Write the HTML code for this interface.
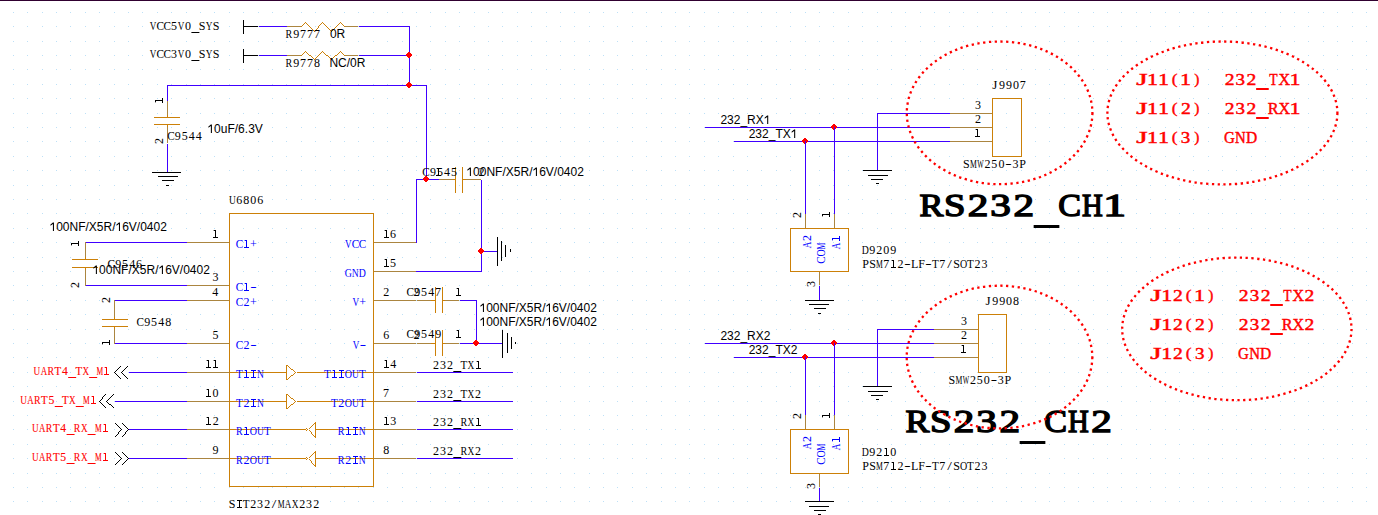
<!DOCTYPE html>
<html><head><meta charset="utf-8"><title>RS232 schematic</title><style>
html,body{margin:0;padding:0;background:#fff;overflow:hidden}
svg{display:block}
text{white-space:pre}
.m{font-family:"Liberation Serif",serif;font-size:12px;fill:#000}
.p{font-family:"Liberation Serif",serif;font-size:12px;fill:#0000ff}
.r{font-family:"Liberation Serif",serif;font-size:12px;fill:#ff0000;stroke:#ff0000;stroke-width:0.12px}
.s{font-family:"Liberation Sans",sans-serif;font-size:12px;fill:#000;font-kerning:none}
.rb{font-family:"Liberation Serif",serif;font-size:17px;fill:#ff0000;stroke:#ff0000;stroke-width:0.45px}
.big{font-family:"Liberation Serif",serif;font-size:32.5px;fill:#000;stroke:#000;stroke-width:1.4px}
</style></head>
<body><svg width="1378" height="515" viewBox="0 0 1378 515">
<rect width="1378" height="515" fill="#fff"/>
<path fill="#bde0f7" d="M13 12h1v1h-1zM13 26h1v1h-1zM13 41h1v1h-1zM13 55h1v1h-1zM13 69h1v1h-1zM13 84h1v1h-1zM13 98h1v1h-1zM13 113h1v1h-1zM13 127h1v1h-1zM13 141h1v1h-1zM13 156h1v1h-1zM13 170h1v1h-1zM13 185h1v1h-1zM13 199h1v1h-1zM13 213h1v1h-1zM13 228h1v1h-1zM13 242h1v1h-1zM13 257h1v1h-1zM13 271h1v1h-1zM13 285h1v1h-1zM13 300h1v1h-1zM13 314h1v1h-1zM13 329h1v1h-1zM13 343h1v1h-1zM13 357h1v1h-1zM13 372h1v1h-1zM13 386h1v1h-1zM13 401h1v1h-1zM13 415h1v1h-1zM13 429h1v1h-1zM13 444h1v1h-1zM13 458h1v1h-1zM13 473h1v1h-1zM13 487h1v1h-1zM13 501h1v1h-1zM27 12h1v1h-1zM27 26h1v1h-1zM27 41h1v1h-1zM27 55h1v1h-1zM27 69h1v1h-1zM27 84h1v1h-1zM27 98h1v1h-1zM27 113h1v1h-1zM27 127h1v1h-1zM27 141h1v1h-1zM27 156h1v1h-1zM27 170h1v1h-1zM27 185h1v1h-1zM27 199h1v1h-1zM27 213h1v1h-1zM27 228h1v1h-1zM27 242h1v1h-1zM27 257h1v1h-1zM27 271h1v1h-1zM27 285h1v1h-1zM27 300h1v1h-1zM27 314h1v1h-1zM27 329h1v1h-1zM27 343h1v1h-1zM27 357h1v1h-1zM27 372h1v1h-1zM27 386h1v1h-1zM27 401h1v1h-1zM27 415h1v1h-1zM27 429h1v1h-1zM27 444h1v1h-1zM27 458h1v1h-1zM27 473h1v1h-1zM27 487h1v1h-1zM27 501h1v1h-1zM42 12h1v1h-1zM42 26h1v1h-1zM42 41h1v1h-1zM42 55h1v1h-1zM42 69h1v1h-1zM42 84h1v1h-1zM42 98h1v1h-1zM42 113h1v1h-1zM42 127h1v1h-1zM42 141h1v1h-1zM42 156h1v1h-1zM42 170h1v1h-1zM42 185h1v1h-1zM42 199h1v1h-1zM42 213h1v1h-1zM42 228h1v1h-1zM42 242h1v1h-1zM42 257h1v1h-1zM42 271h1v1h-1zM42 285h1v1h-1zM42 300h1v1h-1zM42 314h1v1h-1zM42 329h1v1h-1zM42 343h1v1h-1zM42 357h1v1h-1zM42 372h1v1h-1zM42 386h1v1h-1zM42 401h1v1h-1zM42 415h1v1h-1zM42 429h1v1h-1zM42 444h1v1h-1zM42 458h1v1h-1zM42 473h1v1h-1zM42 487h1v1h-1zM42 501h1v1h-1zM56 12h1v1h-1zM56 26h1v1h-1zM56 41h1v1h-1zM56 55h1v1h-1zM56 69h1v1h-1zM56 84h1v1h-1zM56 98h1v1h-1zM56 113h1v1h-1zM56 127h1v1h-1zM56 141h1v1h-1zM56 156h1v1h-1zM56 170h1v1h-1zM56 185h1v1h-1zM56 199h1v1h-1zM56 213h1v1h-1zM56 228h1v1h-1zM56 242h1v1h-1zM56 257h1v1h-1zM56 271h1v1h-1zM56 285h1v1h-1zM56 300h1v1h-1zM56 314h1v1h-1zM56 329h1v1h-1zM56 343h1v1h-1zM56 357h1v1h-1zM56 372h1v1h-1zM56 386h1v1h-1zM56 401h1v1h-1zM56 415h1v1h-1zM56 429h1v1h-1zM56 444h1v1h-1zM56 458h1v1h-1zM56 473h1v1h-1zM56 487h1v1h-1zM56 501h1v1h-1zM70 12h1v1h-1zM70 26h1v1h-1zM70 41h1v1h-1zM70 55h1v1h-1zM70 69h1v1h-1zM70 84h1v1h-1zM70 98h1v1h-1zM70 113h1v1h-1zM70 127h1v1h-1zM70 141h1v1h-1zM70 156h1v1h-1zM70 170h1v1h-1zM70 185h1v1h-1zM70 199h1v1h-1zM70 213h1v1h-1zM70 228h1v1h-1zM70 242h1v1h-1zM70 257h1v1h-1zM70 271h1v1h-1zM70 285h1v1h-1zM70 300h1v1h-1zM70 314h1v1h-1zM70 329h1v1h-1zM70 343h1v1h-1zM70 357h1v1h-1zM70 372h1v1h-1zM70 386h1v1h-1zM70 401h1v1h-1zM70 415h1v1h-1zM70 429h1v1h-1zM70 444h1v1h-1zM70 458h1v1h-1zM70 473h1v1h-1zM70 487h1v1h-1zM70 501h1v1h-1zM85 12h1v1h-1zM85 26h1v1h-1zM85 41h1v1h-1zM85 55h1v1h-1zM85 69h1v1h-1zM85 84h1v1h-1zM85 98h1v1h-1zM85 113h1v1h-1zM85 127h1v1h-1zM85 141h1v1h-1zM85 156h1v1h-1zM85 170h1v1h-1zM85 185h1v1h-1zM85 199h1v1h-1zM85 213h1v1h-1zM85 228h1v1h-1zM85 242h1v1h-1zM85 257h1v1h-1zM85 271h1v1h-1zM85 285h1v1h-1zM85 300h1v1h-1zM85 314h1v1h-1zM85 329h1v1h-1zM85 343h1v1h-1zM85 357h1v1h-1zM85 372h1v1h-1zM85 386h1v1h-1zM85 401h1v1h-1zM85 415h1v1h-1zM85 429h1v1h-1zM85 444h1v1h-1zM85 458h1v1h-1zM85 473h1v1h-1zM85 487h1v1h-1zM85 501h1v1h-1zM99 12h1v1h-1zM99 26h1v1h-1zM99 41h1v1h-1zM99 55h1v1h-1zM99 69h1v1h-1zM99 84h1v1h-1zM99 98h1v1h-1zM99 113h1v1h-1zM99 127h1v1h-1zM99 141h1v1h-1zM99 156h1v1h-1zM99 170h1v1h-1zM99 185h1v1h-1zM99 199h1v1h-1zM99 213h1v1h-1zM99 228h1v1h-1zM99 242h1v1h-1zM99 257h1v1h-1zM99 271h1v1h-1zM99 285h1v1h-1zM99 300h1v1h-1zM99 314h1v1h-1zM99 329h1v1h-1zM99 343h1v1h-1zM99 357h1v1h-1zM99 372h1v1h-1zM99 386h1v1h-1zM99 401h1v1h-1zM99 415h1v1h-1zM99 429h1v1h-1zM99 444h1v1h-1zM99 458h1v1h-1zM99 473h1v1h-1zM99 487h1v1h-1zM99 501h1v1h-1zM114 12h1v1h-1zM114 26h1v1h-1zM114 41h1v1h-1zM114 55h1v1h-1zM114 69h1v1h-1zM114 84h1v1h-1zM114 98h1v1h-1zM114 113h1v1h-1zM114 127h1v1h-1zM114 141h1v1h-1zM114 156h1v1h-1zM114 170h1v1h-1zM114 185h1v1h-1zM114 199h1v1h-1zM114 213h1v1h-1zM114 228h1v1h-1zM114 242h1v1h-1zM114 257h1v1h-1zM114 271h1v1h-1zM114 285h1v1h-1zM114 300h1v1h-1zM114 314h1v1h-1zM114 329h1v1h-1zM114 343h1v1h-1zM114 357h1v1h-1zM114 372h1v1h-1zM114 386h1v1h-1zM114 401h1v1h-1zM114 415h1v1h-1zM114 429h1v1h-1zM114 444h1v1h-1zM114 458h1v1h-1zM114 473h1v1h-1zM114 487h1v1h-1zM114 501h1v1h-1zM128 12h1v1h-1zM128 26h1v1h-1zM128 41h1v1h-1zM128 55h1v1h-1zM128 69h1v1h-1zM128 84h1v1h-1zM128 98h1v1h-1zM128 113h1v1h-1zM128 127h1v1h-1zM128 141h1v1h-1zM128 156h1v1h-1zM128 170h1v1h-1zM128 185h1v1h-1zM128 199h1v1h-1zM128 213h1v1h-1zM128 228h1v1h-1zM128 242h1v1h-1zM128 257h1v1h-1zM128 271h1v1h-1zM128 285h1v1h-1zM128 300h1v1h-1zM128 314h1v1h-1zM128 329h1v1h-1zM128 343h1v1h-1zM128 357h1v1h-1zM128 372h1v1h-1zM128 386h1v1h-1zM128 401h1v1h-1zM128 415h1v1h-1zM128 429h1v1h-1zM128 444h1v1h-1zM128 458h1v1h-1zM128 473h1v1h-1zM128 487h1v1h-1zM128 501h1v1h-1zM142 12h1v1h-1zM142 26h1v1h-1zM142 41h1v1h-1zM142 55h1v1h-1zM142 69h1v1h-1zM142 84h1v1h-1zM142 98h1v1h-1zM142 113h1v1h-1zM142 127h1v1h-1zM142 141h1v1h-1zM142 156h1v1h-1zM142 170h1v1h-1zM142 185h1v1h-1zM142 199h1v1h-1zM142 213h1v1h-1zM142 228h1v1h-1zM142 242h1v1h-1zM142 257h1v1h-1zM142 271h1v1h-1zM142 285h1v1h-1zM142 300h1v1h-1zM142 314h1v1h-1zM142 329h1v1h-1zM142 343h1v1h-1zM142 357h1v1h-1zM142 372h1v1h-1zM142 386h1v1h-1zM142 401h1v1h-1zM142 415h1v1h-1zM142 429h1v1h-1zM142 444h1v1h-1zM142 458h1v1h-1zM142 473h1v1h-1zM142 487h1v1h-1zM142 501h1v1h-1zM157 12h1v1h-1zM157 26h1v1h-1zM157 41h1v1h-1zM157 55h1v1h-1zM157 69h1v1h-1zM157 84h1v1h-1zM157 98h1v1h-1zM157 113h1v1h-1zM157 127h1v1h-1zM157 141h1v1h-1zM157 156h1v1h-1zM157 170h1v1h-1zM157 185h1v1h-1zM157 199h1v1h-1zM157 213h1v1h-1zM157 228h1v1h-1zM157 242h1v1h-1zM157 257h1v1h-1zM157 271h1v1h-1zM157 285h1v1h-1zM157 300h1v1h-1zM157 314h1v1h-1zM157 329h1v1h-1zM157 343h1v1h-1zM157 357h1v1h-1zM157 372h1v1h-1zM157 386h1v1h-1zM157 401h1v1h-1zM157 415h1v1h-1zM157 429h1v1h-1zM157 444h1v1h-1zM157 458h1v1h-1zM157 473h1v1h-1zM157 487h1v1h-1zM157 501h1v1h-1zM171 12h1v1h-1zM171 26h1v1h-1zM171 41h1v1h-1zM171 55h1v1h-1zM171 69h1v1h-1zM171 84h1v1h-1zM171 98h1v1h-1zM171 113h1v1h-1zM171 127h1v1h-1zM171 141h1v1h-1zM171 156h1v1h-1zM171 170h1v1h-1zM171 185h1v1h-1zM171 199h1v1h-1zM171 213h1v1h-1zM171 228h1v1h-1zM171 242h1v1h-1zM171 257h1v1h-1zM171 271h1v1h-1zM171 285h1v1h-1zM171 300h1v1h-1zM171 314h1v1h-1zM171 329h1v1h-1zM171 343h1v1h-1zM171 357h1v1h-1zM171 372h1v1h-1zM171 386h1v1h-1zM171 401h1v1h-1zM171 415h1v1h-1zM171 429h1v1h-1zM171 444h1v1h-1zM171 458h1v1h-1zM171 473h1v1h-1zM171 487h1v1h-1zM171 501h1v1h-1zM186 12h1v1h-1zM186 26h1v1h-1zM186 41h1v1h-1zM186 55h1v1h-1zM186 69h1v1h-1zM186 84h1v1h-1zM186 98h1v1h-1zM186 113h1v1h-1zM186 127h1v1h-1zM186 141h1v1h-1zM186 156h1v1h-1zM186 170h1v1h-1zM186 185h1v1h-1zM186 199h1v1h-1zM186 213h1v1h-1zM186 228h1v1h-1zM186 242h1v1h-1zM186 257h1v1h-1zM186 271h1v1h-1zM186 285h1v1h-1zM186 300h1v1h-1zM186 314h1v1h-1zM186 329h1v1h-1zM186 343h1v1h-1zM186 357h1v1h-1zM186 372h1v1h-1zM186 386h1v1h-1zM186 401h1v1h-1zM186 415h1v1h-1zM186 429h1v1h-1zM186 444h1v1h-1zM186 458h1v1h-1zM186 473h1v1h-1zM186 487h1v1h-1zM186 501h1v1h-1zM200 12h1v1h-1zM200 26h1v1h-1zM200 41h1v1h-1zM200 55h1v1h-1zM200 69h1v1h-1zM200 84h1v1h-1zM200 98h1v1h-1zM200 113h1v1h-1zM200 127h1v1h-1zM200 141h1v1h-1zM200 156h1v1h-1zM200 170h1v1h-1zM200 185h1v1h-1zM200 199h1v1h-1zM200 213h1v1h-1zM200 228h1v1h-1zM200 242h1v1h-1zM200 257h1v1h-1zM200 271h1v1h-1zM200 285h1v1h-1zM200 300h1v1h-1zM200 314h1v1h-1zM200 329h1v1h-1zM200 343h1v1h-1zM200 357h1v1h-1zM200 372h1v1h-1zM200 386h1v1h-1zM200 401h1v1h-1zM200 415h1v1h-1zM200 429h1v1h-1zM200 444h1v1h-1zM200 458h1v1h-1zM200 473h1v1h-1zM200 487h1v1h-1zM200 501h1v1h-1zM214 12h1v1h-1zM214 26h1v1h-1zM214 41h1v1h-1zM214 55h1v1h-1zM214 69h1v1h-1zM214 84h1v1h-1zM214 98h1v1h-1zM214 113h1v1h-1zM214 127h1v1h-1zM214 141h1v1h-1zM214 156h1v1h-1zM214 170h1v1h-1zM214 185h1v1h-1zM214 199h1v1h-1zM214 213h1v1h-1zM214 228h1v1h-1zM214 242h1v1h-1zM214 257h1v1h-1zM214 271h1v1h-1zM214 285h1v1h-1zM214 300h1v1h-1zM214 314h1v1h-1zM214 329h1v1h-1zM214 343h1v1h-1zM214 357h1v1h-1zM214 372h1v1h-1zM214 386h1v1h-1zM214 401h1v1h-1zM214 415h1v1h-1zM214 429h1v1h-1zM214 444h1v1h-1zM214 458h1v1h-1zM214 473h1v1h-1zM214 487h1v1h-1zM214 501h1v1h-1zM229 12h1v1h-1zM229 26h1v1h-1zM229 41h1v1h-1zM229 55h1v1h-1zM229 69h1v1h-1zM229 84h1v1h-1zM229 98h1v1h-1zM229 113h1v1h-1zM229 127h1v1h-1zM229 141h1v1h-1zM229 156h1v1h-1zM229 170h1v1h-1zM229 185h1v1h-1zM229 199h1v1h-1zM229 213h1v1h-1zM229 228h1v1h-1zM229 242h1v1h-1zM229 257h1v1h-1zM229 271h1v1h-1zM229 285h1v1h-1zM229 300h1v1h-1zM229 314h1v1h-1zM229 329h1v1h-1zM229 343h1v1h-1zM229 357h1v1h-1zM229 372h1v1h-1zM229 386h1v1h-1zM229 401h1v1h-1zM229 415h1v1h-1zM229 429h1v1h-1zM229 444h1v1h-1zM229 458h1v1h-1zM229 473h1v1h-1zM229 487h1v1h-1zM229 501h1v1h-1zM243 12h1v1h-1zM243 26h1v1h-1zM243 41h1v1h-1zM243 55h1v1h-1zM243 69h1v1h-1zM243 84h1v1h-1zM243 98h1v1h-1zM243 113h1v1h-1zM243 127h1v1h-1zM243 141h1v1h-1zM243 156h1v1h-1zM243 170h1v1h-1zM243 185h1v1h-1zM243 199h1v1h-1zM243 213h1v1h-1zM243 228h1v1h-1zM243 242h1v1h-1zM243 257h1v1h-1zM243 271h1v1h-1zM243 285h1v1h-1zM243 300h1v1h-1zM243 314h1v1h-1zM243 329h1v1h-1zM243 343h1v1h-1zM243 357h1v1h-1zM243 372h1v1h-1zM243 386h1v1h-1zM243 401h1v1h-1zM243 415h1v1h-1zM243 429h1v1h-1zM243 444h1v1h-1zM243 458h1v1h-1zM243 473h1v1h-1zM243 487h1v1h-1zM243 501h1v1h-1zM258 12h1v1h-1zM258 26h1v1h-1zM258 41h1v1h-1zM258 55h1v1h-1zM258 69h1v1h-1zM258 84h1v1h-1zM258 98h1v1h-1zM258 113h1v1h-1zM258 127h1v1h-1zM258 141h1v1h-1zM258 156h1v1h-1zM258 170h1v1h-1zM258 185h1v1h-1zM258 199h1v1h-1zM258 213h1v1h-1zM258 228h1v1h-1zM258 242h1v1h-1zM258 257h1v1h-1zM258 271h1v1h-1zM258 285h1v1h-1zM258 300h1v1h-1zM258 314h1v1h-1zM258 329h1v1h-1zM258 343h1v1h-1zM258 357h1v1h-1zM258 372h1v1h-1zM258 386h1v1h-1zM258 401h1v1h-1zM258 415h1v1h-1zM258 429h1v1h-1zM258 444h1v1h-1zM258 458h1v1h-1zM258 473h1v1h-1zM258 487h1v1h-1zM258 501h1v1h-1zM272 12h1v1h-1zM272 26h1v1h-1zM272 41h1v1h-1zM272 55h1v1h-1zM272 69h1v1h-1zM272 84h1v1h-1zM272 98h1v1h-1zM272 113h1v1h-1zM272 127h1v1h-1zM272 141h1v1h-1zM272 156h1v1h-1zM272 170h1v1h-1zM272 185h1v1h-1zM272 199h1v1h-1zM272 213h1v1h-1zM272 228h1v1h-1zM272 242h1v1h-1zM272 257h1v1h-1zM272 271h1v1h-1zM272 285h1v1h-1zM272 300h1v1h-1zM272 314h1v1h-1zM272 329h1v1h-1zM272 343h1v1h-1zM272 357h1v1h-1zM272 372h1v1h-1zM272 386h1v1h-1zM272 401h1v1h-1zM272 415h1v1h-1zM272 429h1v1h-1zM272 444h1v1h-1zM272 458h1v1h-1zM272 473h1v1h-1zM272 487h1v1h-1zM272 501h1v1h-1zM286 12h1v1h-1zM286 26h1v1h-1zM286 41h1v1h-1zM286 55h1v1h-1zM286 69h1v1h-1zM286 84h1v1h-1zM286 98h1v1h-1zM286 113h1v1h-1zM286 127h1v1h-1zM286 141h1v1h-1zM286 156h1v1h-1zM286 170h1v1h-1zM286 185h1v1h-1zM286 199h1v1h-1zM286 213h1v1h-1zM286 228h1v1h-1zM286 242h1v1h-1zM286 257h1v1h-1zM286 271h1v1h-1zM286 285h1v1h-1zM286 300h1v1h-1zM286 314h1v1h-1zM286 329h1v1h-1zM286 343h1v1h-1zM286 357h1v1h-1zM286 372h1v1h-1zM286 386h1v1h-1zM286 401h1v1h-1zM286 415h1v1h-1zM286 429h1v1h-1zM286 444h1v1h-1zM286 458h1v1h-1zM286 473h1v1h-1zM286 487h1v1h-1zM286 501h1v1h-1zM301 12h1v1h-1zM301 26h1v1h-1zM301 41h1v1h-1zM301 55h1v1h-1zM301 69h1v1h-1zM301 84h1v1h-1zM301 98h1v1h-1zM301 113h1v1h-1zM301 127h1v1h-1zM301 141h1v1h-1zM301 156h1v1h-1zM301 170h1v1h-1zM301 185h1v1h-1zM301 199h1v1h-1zM301 213h1v1h-1zM301 228h1v1h-1zM301 242h1v1h-1zM301 257h1v1h-1zM301 271h1v1h-1zM301 285h1v1h-1zM301 300h1v1h-1zM301 314h1v1h-1zM301 329h1v1h-1zM301 343h1v1h-1zM301 357h1v1h-1zM301 372h1v1h-1zM301 386h1v1h-1zM301 401h1v1h-1zM301 415h1v1h-1zM301 429h1v1h-1zM301 444h1v1h-1zM301 458h1v1h-1zM301 473h1v1h-1zM301 487h1v1h-1zM301 501h1v1h-1zM315 12h1v1h-1zM315 26h1v1h-1zM315 41h1v1h-1zM315 55h1v1h-1zM315 69h1v1h-1zM315 84h1v1h-1zM315 98h1v1h-1zM315 113h1v1h-1zM315 127h1v1h-1zM315 141h1v1h-1zM315 156h1v1h-1zM315 170h1v1h-1zM315 185h1v1h-1zM315 199h1v1h-1zM315 213h1v1h-1zM315 228h1v1h-1zM315 242h1v1h-1zM315 257h1v1h-1zM315 271h1v1h-1zM315 285h1v1h-1zM315 300h1v1h-1zM315 314h1v1h-1zM315 329h1v1h-1zM315 343h1v1h-1zM315 357h1v1h-1zM315 372h1v1h-1zM315 386h1v1h-1zM315 401h1v1h-1zM315 415h1v1h-1zM315 429h1v1h-1zM315 444h1v1h-1zM315 458h1v1h-1zM315 473h1v1h-1zM315 487h1v1h-1zM315 501h1v1h-1zM330 12h1v1h-1zM330 26h1v1h-1zM330 41h1v1h-1zM330 55h1v1h-1zM330 69h1v1h-1zM330 84h1v1h-1zM330 98h1v1h-1zM330 113h1v1h-1zM330 127h1v1h-1zM330 141h1v1h-1zM330 156h1v1h-1zM330 170h1v1h-1zM330 185h1v1h-1zM330 199h1v1h-1zM330 213h1v1h-1zM330 228h1v1h-1zM330 242h1v1h-1zM330 257h1v1h-1zM330 271h1v1h-1zM330 285h1v1h-1zM330 300h1v1h-1zM330 314h1v1h-1zM330 329h1v1h-1zM330 343h1v1h-1zM330 357h1v1h-1zM330 372h1v1h-1zM330 386h1v1h-1zM330 401h1v1h-1zM330 415h1v1h-1zM330 429h1v1h-1zM330 444h1v1h-1zM330 458h1v1h-1zM330 473h1v1h-1zM330 487h1v1h-1zM330 501h1v1h-1zM344 12h1v1h-1zM344 26h1v1h-1zM344 41h1v1h-1zM344 55h1v1h-1zM344 69h1v1h-1zM344 84h1v1h-1zM344 98h1v1h-1zM344 113h1v1h-1zM344 127h1v1h-1zM344 141h1v1h-1zM344 156h1v1h-1zM344 170h1v1h-1zM344 185h1v1h-1zM344 199h1v1h-1zM344 213h1v1h-1zM344 228h1v1h-1zM344 242h1v1h-1zM344 257h1v1h-1zM344 271h1v1h-1zM344 285h1v1h-1zM344 300h1v1h-1zM344 314h1v1h-1zM344 329h1v1h-1zM344 343h1v1h-1zM344 357h1v1h-1zM344 372h1v1h-1zM344 386h1v1h-1zM344 401h1v1h-1zM344 415h1v1h-1zM344 429h1v1h-1zM344 444h1v1h-1zM344 458h1v1h-1zM344 473h1v1h-1zM344 487h1v1h-1zM344 501h1v1h-1zM358 12h1v1h-1zM358 26h1v1h-1zM358 41h1v1h-1zM358 55h1v1h-1zM358 69h1v1h-1zM358 84h1v1h-1zM358 98h1v1h-1zM358 113h1v1h-1zM358 127h1v1h-1zM358 141h1v1h-1zM358 156h1v1h-1zM358 170h1v1h-1zM358 185h1v1h-1zM358 199h1v1h-1zM358 213h1v1h-1zM358 228h1v1h-1zM358 242h1v1h-1zM358 257h1v1h-1zM358 271h1v1h-1zM358 285h1v1h-1zM358 300h1v1h-1zM358 314h1v1h-1zM358 329h1v1h-1zM358 343h1v1h-1zM358 357h1v1h-1zM358 372h1v1h-1zM358 386h1v1h-1zM358 401h1v1h-1zM358 415h1v1h-1zM358 429h1v1h-1zM358 444h1v1h-1zM358 458h1v1h-1zM358 473h1v1h-1zM358 487h1v1h-1zM358 501h1v1h-1zM373 12h1v1h-1zM373 26h1v1h-1zM373 41h1v1h-1zM373 55h1v1h-1zM373 69h1v1h-1zM373 84h1v1h-1zM373 98h1v1h-1zM373 113h1v1h-1zM373 127h1v1h-1zM373 141h1v1h-1zM373 156h1v1h-1zM373 170h1v1h-1zM373 185h1v1h-1zM373 199h1v1h-1zM373 213h1v1h-1zM373 228h1v1h-1zM373 242h1v1h-1zM373 257h1v1h-1zM373 271h1v1h-1zM373 285h1v1h-1zM373 300h1v1h-1zM373 314h1v1h-1zM373 329h1v1h-1zM373 343h1v1h-1zM373 357h1v1h-1zM373 372h1v1h-1zM373 386h1v1h-1zM373 401h1v1h-1zM373 415h1v1h-1zM373 429h1v1h-1zM373 444h1v1h-1zM373 458h1v1h-1zM373 473h1v1h-1zM373 487h1v1h-1zM373 501h1v1h-1zM387 12h1v1h-1zM387 26h1v1h-1zM387 41h1v1h-1zM387 55h1v1h-1zM387 69h1v1h-1zM387 84h1v1h-1zM387 98h1v1h-1zM387 113h1v1h-1zM387 127h1v1h-1zM387 141h1v1h-1zM387 156h1v1h-1zM387 170h1v1h-1zM387 185h1v1h-1zM387 199h1v1h-1zM387 213h1v1h-1zM387 228h1v1h-1zM387 242h1v1h-1zM387 257h1v1h-1zM387 271h1v1h-1zM387 285h1v1h-1zM387 300h1v1h-1zM387 314h1v1h-1zM387 329h1v1h-1zM387 343h1v1h-1zM387 357h1v1h-1zM387 372h1v1h-1zM387 386h1v1h-1zM387 401h1v1h-1zM387 415h1v1h-1zM387 429h1v1h-1zM387 444h1v1h-1zM387 458h1v1h-1zM387 473h1v1h-1zM387 487h1v1h-1zM387 501h1v1h-1zM402 12h1v1h-1zM402 26h1v1h-1zM402 41h1v1h-1zM402 55h1v1h-1zM402 69h1v1h-1zM402 84h1v1h-1zM402 98h1v1h-1zM402 113h1v1h-1zM402 127h1v1h-1zM402 141h1v1h-1zM402 156h1v1h-1zM402 170h1v1h-1zM402 185h1v1h-1zM402 199h1v1h-1zM402 213h1v1h-1zM402 228h1v1h-1zM402 242h1v1h-1zM402 257h1v1h-1zM402 271h1v1h-1zM402 285h1v1h-1zM402 300h1v1h-1zM402 314h1v1h-1zM402 329h1v1h-1zM402 343h1v1h-1zM402 357h1v1h-1zM402 372h1v1h-1zM402 386h1v1h-1zM402 401h1v1h-1zM402 415h1v1h-1zM402 429h1v1h-1zM402 444h1v1h-1zM402 458h1v1h-1zM402 473h1v1h-1zM402 487h1v1h-1zM402 501h1v1h-1zM416 12h1v1h-1zM416 26h1v1h-1zM416 41h1v1h-1zM416 55h1v1h-1zM416 69h1v1h-1zM416 84h1v1h-1zM416 98h1v1h-1zM416 113h1v1h-1zM416 127h1v1h-1zM416 141h1v1h-1zM416 156h1v1h-1zM416 170h1v1h-1zM416 185h1v1h-1zM416 199h1v1h-1zM416 213h1v1h-1zM416 228h1v1h-1zM416 242h1v1h-1zM416 257h1v1h-1zM416 271h1v1h-1zM416 285h1v1h-1zM416 300h1v1h-1zM416 314h1v1h-1zM416 329h1v1h-1zM416 343h1v1h-1zM416 357h1v1h-1zM416 372h1v1h-1zM416 386h1v1h-1zM416 401h1v1h-1zM416 415h1v1h-1zM416 429h1v1h-1zM416 444h1v1h-1zM416 458h1v1h-1zM416 473h1v1h-1zM416 487h1v1h-1zM416 501h1v1h-1zM430 12h1v1h-1zM430 26h1v1h-1zM430 41h1v1h-1zM430 55h1v1h-1zM430 69h1v1h-1zM430 84h1v1h-1zM430 98h1v1h-1zM430 113h1v1h-1zM430 127h1v1h-1zM430 141h1v1h-1zM430 156h1v1h-1zM430 170h1v1h-1zM430 185h1v1h-1zM430 199h1v1h-1zM430 213h1v1h-1zM430 228h1v1h-1zM430 242h1v1h-1zM430 257h1v1h-1zM430 271h1v1h-1zM430 285h1v1h-1zM430 300h1v1h-1zM430 314h1v1h-1zM430 329h1v1h-1zM430 343h1v1h-1zM430 357h1v1h-1zM430 372h1v1h-1zM430 386h1v1h-1zM430 401h1v1h-1zM430 415h1v1h-1zM430 429h1v1h-1zM430 444h1v1h-1zM430 458h1v1h-1zM430 473h1v1h-1zM430 487h1v1h-1zM430 501h1v1h-1zM445 12h1v1h-1zM445 26h1v1h-1zM445 41h1v1h-1zM445 55h1v1h-1zM445 69h1v1h-1zM445 84h1v1h-1zM445 98h1v1h-1zM445 113h1v1h-1zM445 127h1v1h-1zM445 141h1v1h-1zM445 156h1v1h-1zM445 170h1v1h-1zM445 185h1v1h-1zM445 199h1v1h-1zM445 213h1v1h-1zM445 228h1v1h-1zM445 242h1v1h-1zM445 257h1v1h-1zM445 271h1v1h-1zM445 285h1v1h-1zM445 300h1v1h-1zM445 314h1v1h-1zM445 329h1v1h-1zM445 343h1v1h-1zM445 357h1v1h-1zM445 372h1v1h-1zM445 386h1v1h-1zM445 401h1v1h-1zM445 415h1v1h-1zM445 429h1v1h-1zM445 444h1v1h-1zM445 458h1v1h-1zM445 473h1v1h-1zM445 487h1v1h-1zM445 501h1v1h-1zM459 12h1v1h-1zM459 26h1v1h-1zM459 41h1v1h-1zM459 55h1v1h-1zM459 69h1v1h-1zM459 84h1v1h-1zM459 98h1v1h-1zM459 113h1v1h-1zM459 127h1v1h-1zM459 141h1v1h-1zM459 156h1v1h-1zM459 170h1v1h-1zM459 185h1v1h-1zM459 199h1v1h-1zM459 213h1v1h-1zM459 228h1v1h-1zM459 242h1v1h-1zM459 257h1v1h-1zM459 271h1v1h-1zM459 285h1v1h-1zM459 300h1v1h-1zM459 314h1v1h-1zM459 329h1v1h-1zM459 343h1v1h-1zM459 357h1v1h-1zM459 372h1v1h-1zM459 386h1v1h-1zM459 401h1v1h-1zM459 415h1v1h-1zM459 429h1v1h-1zM459 444h1v1h-1zM459 458h1v1h-1zM459 473h1v1h-1zM459 487h1v1h-1zM459 501h1v1h-1zM474 12h1v1h-1zM474 26h1v1h-1zM474 41h1v1h-1zM474 55h1v1h-1zM474 69h1v1h-1zM474 84h1v1h-1zM474 98h1v1h-1zM474 113h1v1h-1zM474 127h1v1h-1zM474 141h1v1h-1zM474 156h1v1h-1zM474 170h1v1h-1zM474 185h1v1h-1zM474 199h1v1h-1zM474 213h1v1h-1zM474 228h1v1h-1zM474 242h1v1h-1zM474 257h1v1h-1zM474 271h1v1h-1zM474 285h1v1h-1zM474 300h1v1h-1zM474 314h1v1h-1zM474 329h1v1h-1zM474 343h1v1h-1zM474 357h1v1h-1zM474 372h1v1h-1zM474 386h1v1h-1zM474 401h1v1h-1zM474 415h1v1h-1zM474 429h1v1h-1zM474 444h1v1h-1zM474 458h1v1h-1zM474 473h1v1h-1zM474 487h1v1h-1zM474 501h1v1h-1zM488 12h1v1h-1zM488 26h1v1h-1zM488 41h1v1h-1zM488 55h1v1h-1zM488 69h1v1h-1zM488 84h1v1h-1zM488 98h1v1h-1zM488 113h1v1h-1zM488 127h1v1h-1zM488 141h1v1h-1zM488 156h1v1h-1zM488 170h1v1h-1zM488 185h1v1h-1zM488 199h1v1h-1zM488 213h1v1h-1zM488 228h1v1h-1zM488 242h1v1h-1zM488 257h1v1h-1zM488 271h1v1h-1zM488 285h1v1h-1zM488 300h1v1h-1zM488 314h1v1h-1zM488 329h1v1h-1zM488 343h1v1h-1zM488 357h1v1h-1zM488 372h1v1h-1zM488 386h1v1h-1zM488 401h1v1h-1zM488 415h1v1h-1zM488 429h1v1h-1zM488 444h1v1h-1zM488 458h1v1h-1zM488 473h1v1h-1zM488 487h1v1h-1zM488 501h1v1h-1zM502 12h1v1h-1zM502 26h1v1h-1zM502 41h1v1h-1zM502 55h1v1h-1zM502 69h1v1h-1zM502 84h1v1h-1zM502 98h1v1h-1zM502 113h1v1h-1zM502 127h1v1h-1zM502 141h1v1h-1zM502 156h1v1h-1zM502 170h1v1h-1zM502 185h1v1h-1zM502 199h1v1h-1zM502 213h1v1h-1zM502 228h1v1h-1zM502 242h1v1h-1zM502 257h1v1h-1zM502 271h1v1h-1zM502 285h1v1h-1zM502 300h1v1h-1zM502 314h1v1h-1zM502 329h1v1h-1zM502 343h1v1h-1zM502 357h1v1h-1zM502 372h1v1h-1zM502 386h1v1h-1zM502 401h1v1h-1zM502 415h1v1h-1zM502 429h1v1h-1zM502 444h1v1h-1zM502 458h1v1h-1zM502 473h1v1h-1zM502 487h1v1h-1zM502 501h1v1h-1zM517 12h1v1h-1zM517 26h1v1h-1zM517 41h1v1h-1zM517 55h1v1h-1zM517 69h1v1h-1zM517 84h1v1h-1zM517 98h1v1h-1zM517 113h1v1h-1zM517 127h1v1h-1zM517 141h1v1h-1zM517 156h1v1h-1zM517 170h1v1h-1zM517 185h1v1h-1zM517 199h1v1h-1zM517 213h1v1h-1zM517 228h1v1h-1zM517 242h1v1h-1zM517 257h1v1h-1zM517 271h1v1h-1zM517 285h1v1h-1zM517 300h1v1h-1zM517 314h1v1h-1zM517 329h1v1h-1zM517 343h1v1h-1zM517 357h1v1h-1zM517 372h1v1h-1zM517 386h1v1h-1zM517 401h1v1h-1zM517 415h1v1h-1zM517 429h1v1h-1zM517 444h1v1h-1zM517 458h1v1h-1zM517 473h1v1h-1zM517 487h1v1h-1zM517 501h1v1h-1zM531 12h1v1h-1zM531 26h1v1h-1zM531 41h1v1h-1zM531 55h1v1h-1zM531 69h1v1h-1zM531 84h1v1h-1zM531 98h1v1h-1zM531 113h1v1h-1zM531 127h1v1h-1zM531 141h1v1h-1zM531 156h1v1h-1zM531 170h1v1h-1zM531 185h1v1h-1zM531 199h1v1h-1zM531 213h1v1h-1zM531 228h1v1h-1zM531 242h1v1h-1zM531 257h1v1h-1zM531 271h1v1h-1zM531 285h1v1h-1zM531 300h1v1h-1zM531 314h1v1h-1zM531 329h1v1h-1zM531 343h1v1h-1zM531 357h1v1h-1zM531 372h1v1h-1zM531 386h1v1h-1zM531 401h1v1h-1zM531 415h1v1h-1zM531 429h1v1h-1zM531 444h1v1h-1zM531 458h1v1h-1zM531 473h1v1h-1zM531 487h1v1h-1zM531 501h1v1h-1zM546 12h1v1h-1zM546 26h1v1h-1zM546 41h1v1h-1zM546 55h1v1h-1zM546 69h1v1h-1zM546 84h1v1h-1zM546 98h1v1h-1zM546 113h1v1h-1zM546 127h1v1h-1zM546 141h1v1h-1zM546 156h1v1h-1zM546 170h1v1h-1zM546 185h1v1h-1zM546 199h1v1h-1zM546 213h1v1h-1zM546 228h1v1h-1zM546 242h1v1h-1zM546 257h1v1h-1zM546 271h1v1h-1zM546 285h1v1h-1zM546 300h1v1h-1zM546 314h1v1h-1zM546 329h1v1h-1zM546 343h1v1h-1zM546 357h1v1h-1zM546 372h1v1h-1zM546 386h1v1h-1zM546 401h1v1h-1zM546 415h1v1h-1zM546 429h1v1h-1zM546 444h1v1h-1zM546 458h1v1h-1zM546 473h1v1h-1zM546 487h1v1h-1zM546 501h1v1h-1zM560 12h1v1h-1zM560 26h1v1h-1zM560 41h1v1h-1zM560 55h1v1h-1zM560 69h1v1h-1zM560 84h1v1h-1zM560 98h1v1h-1zM560 113h1v1h-1zM560 127h1v1h-1zM560 141h1v1h-1zM560 156h1v1h-1zM560 170h1v1h-1zM560 185h1v1h-1zM560 199h1v1h-1zM560 213h1v1h-1zM560 228h1v1h-1zM560 242h1v1h-1zM560 257h1v1h-1zM560 271h1v1h-1zM560 285h1v1h-1zM560 300h1v1h-1zM560 314h1v1h-1zM560 329h1v1h-1zM560 343h1v1h-1zM560 357h1v1h-1zM560 372h1v1h-1zM560 386h1v1h-1zM560 401h1v1h-1zM560 415h1v1h-1zM560 429h1v1h-1zM560 444h1v1h-1zM560 458h1v1h-1zM560 473h1v1h-1zM560 487h1v1h-1zM560 501h1v1h-1zM574 12h1v1h-1zM574 26h1v1h-1zM574 41h1v1h-1zM574 55h1v1h-1zM574 69h1v1h-1zM574 84h1v1h-1zM574 98h1v1h-1zM574 113h1v1h-1zM574 127h1v1h-1zM574 141h1v1h-1zM574 156h1v1h-1zM574 170h1v1h-1zM574 185h1v1h-1zM574 199h1v1h-1zM574 213h1v1h-1zM574 228h1v1h-1zM574 242h1v1h-1zM574 257h1v1h-1zM574 271h1v1h-1zM574 285h1v1h-1zM574 300h1v1h-1zM574 314h1v1h-1zM574 329h1v1h-1zM574 343h1v1h-1zM574 357h1v1h-1zM574 372h1v1h-1zM574 386h1v1h-1zM574 401h1v1h-1zM574 415h1v1h-1zM574 429h1v1h-1zM574 444h1v1h-1zM574 458h1v1h-1zM574 473h1v1h-1zM574 487h1v1h-1zM574 501h1v1h-1zM589 12h1v1h-1zM589 26h1v1h-1zM589 41h1v1h-1zM589 55h1v1h-1zM589 69h1v1h-1zM589 84h1v1h-1zM589 98h1v1h-1zM589 113h1v1h-1zM589 127h1v1h-1zM589 141h1v1h-1zM589 156h1v1h-1zM589 170h1v1h-1zM589 185h1v1h-1zM589 199h1v1h-1zM589 213h1v1h-1zM589 228h1v1h-1zM589 242h1v1h-1zM589 257h1v1h-1zM589 271h1v1h-1zM589 285h1v1h-1zM589 300h1v1h-1zM589 314h1v1h-1zM589 329h1v1h-1zM589 343h1v1h-1zM589 357h1v1h-1zM589 372h1v1h-1zM589 386h1v1h-1zM589 401h1v1h-1zM589 415h1v1h-1zM589 429h1v1h-1zM589 444h1v1h-1zM589 458h1v1h-1zM589 473h1v1h-1zM589 487h1v1h-1zM589 501h1v1h-1zM603 12h1v1h-1zM603 26h1v1h-1zM603 41h1v1h-1zM603 55h1v1h-1zM603 69h1v1h-1zM603 84h1v1h-1zM603 98h1v1h-1zM603 113h1v1h-1zM603 127h1v1h-1zM603 141h1v1h-1zM603 156h1v1h-1zM603 170h1v1h-1zM603 185h1v1h-1zM603 199h1v1h-1zM603 213h1v1h-1zM603 228h1v1h-1zM603 242h1v1h-1zM603 257h1v1h-1zM603 271h1v1h-1zM603 285h1v1h-1zM603 300h1v1h-1zM603 314h1v1h-1zM603 329h1v1h-1zM603 343h1v1h-1zM603 357h1v1h-1zM603 372h1v1h-1zM603 386h1v1h-1zM603 401h1v1h-1zM603 415h1v1h-1zM603 429h1v1h-1zM603 444h1v1h-1zM603 458h1v1h-1zM603 473h1v1h-1zM603 487h1v1h-1zM603 501h1v1h-1zM617 12h1v1h-1zM617 26h1v1h-1zM617 41h1v1h-1zM617 55h1v1h-1zM617 69h1v1h-1zM617 84h1v1h-1zM617 98h1v1h-1zM617 113h1v1h-1zM617 127h1v1h-1zM617 141h1v1h-1zM617 156h1v1h-1zM617 170h1v1h-1zM617 185h1v1h-1zM617 199h1v1h-1zM617 213h1v1h-1zM617 228h1v1h-1zM617 242h1v1h-1zM617 257h1v1h-1zM617 271h1v1h-1zM617 285h1v1h-1zM617 300h1v1h-1zM617 314h1v1h-1zM617 329h1v1h-1zM617 343h1v1h-1zM617 357h1v1h-1zM617 372h1v1h-1zM617 386h1v1h-1zM617 401h1v1h-1zM617 415h1v1h-1zM617 429h1v1h-1zM617 444h1v1h-1zM617 458h1v1h-1zM617 473h1v1h-1zM617 487h1v1h-1zM617 501h1v1h-1zM632 12h1v1h-1zM632 26h1v1h-1zM632 41h1v1h-1zM632 55h1v1h-1zM632 69h1v1h-1zM632 84h1v1h-1zM632 98h1v1h-1zM632 113h1v1h-1zM632 127h1v1h-1zM632 141h1v1h-1zM632 156h1v1h-1zM632 170h1v1h-1zM632 185h1v1h-1zM632 199h1v1h-1zM632 213h1v1h-1zM632 228h1v1h-1zM632 242h1v1h-1zM632 257h1v1h-1zM632 271h1v1h-1zM632 285h1v1h-1zM632 300h1v1h-1zM632 314h1v1h-1zM632 329h1v1h-1zM632 343h1v1h-1zM632 357h1v1h-1zM632 372h1v1h-1zM632 386h1v1h-1zM632 401h1v1h-1zM632 415h1v1h-1zM632 429h1v1h-1zM632 444h1v1h-1zM632 458h1v1h-1zM632 473h1v1h-1zM632 487h1v1h-1zM632 501h1v1h-1zM646 12h1v1h-1zM646 26h1v1h-1zM646 41h1v1h-1zM646 55h1v1h-1zM646 69h1v1h-1zM646 84h1v1h-1zM646 98h1v1h-1zM646 113h1v1h-1zM646 127h1v1h-1zM646 141h1v1h-1zM646 156h1v1h-1zM646 170h1v1h-1zM646 185h1v1h-1zM646 199h1v1h-1zM646 213h1v1h-1zM646 228h1v1h-1zM646 242h1v1h-1zM646 257h1v1h-1zM646 271h1v1h-1zM646 285h1v1h-1zM646 300h1v1h-1zM646 314h1v1h-1zM646 329h1v1h-1zM646 343h1v1h-1zM646 357h1v1h-1zM646 372h1v1h-1zM646 386h1v1h-1zM646 401h1v1h-1zM646 415h1v1h-1zM646 429h1v1h-1zM646 444h1v1h-1zM646 458h1v1h-1zM646 473h1v1h-1zM646 487h1v1h-1zM646 501h1v1h-1zM661 12h1v1h-1zM661 26h1v1h-1zM661 41h1v1h-1zM661 55h1v1h-1zM661 69h1v1h-1zM661 84h1v1h-1zM661 98h1v1h-1zM661 113h1v1h-1zM661 127h1v1h-1zM661 141h1v1h-1zM661 156h1v1h-1zM661 170h1v1h-1zM661 185h1v1h-1zM661 199h1v1h-1zM661 213h1v1h-1zM661 228h1v1h-1zM661 242h1v1h-1zM661 257h1v1h-1zM661 271h1v1h-1zM661 285h1v1h-1zM661 300h1v1h-1zM661 314h1v1h-1zM661 329h1v1h-1zM661 343h1v1h-1zM661 357h1v1h-1zM661 372h1v1h-1zM661 386h1v1h-1zM661 401h1v1h-1zM661 415h1v1h-1zM661 429h1v1h-1zM661 444h1v1h-1zM661 458h1v1h-1zM661 473h1v1h-1zM661 487h1v1h-1zM661 501h1v1h-1zM675 12h1v1h-1zM675 26h1v1h-1zM675 41h1v1h-1zM675 55h1v1h-1zM675 69h1v1h-1zM675 84h1v1h-1zM675 98h1v1h-1zM675 113h1v1h-1zM675 127h1v1h-1zM675 141h1v1h-1zM675 156h1v1h-1zM675 170h1v1h-1zM675 185h1v1h-1zM675 199h1v1h-1zM675 213h1v1h-1zM675 228h1v1h-1zM675 242h1v1h-1zM675 257h1v1h-1zM675 271h1v1h-1zM675 285h1v1h-1zM675 300h1v1h-1zM675 314h1v1h-1zM675 329h1v1h-1zM675 343h1v1h-1zM675 357h1v1h-1zM675 372h1v1h-1zM675 386h1v1h-1zM675 401h1v1h-1zM675 415h1v1h-1zM675 429h1v1h-1zM675 444h1v1h-1zM675 458h1v1h-1zM675 473h1v1h-1zM675 487h1v1h-1zM675 501h1v1h-1zM689 12h1v1h-1zM689 26h1v1h-1zM689 41h1v1h-1zM689 55h1v1h-1zM689 69h1v1h-1zM689 84h1v1h-1zM689 98h1v1h-1zM689 113h1v1h-1zM689 127h1v1h-1zM689 141h1v1h-1zM689 156h1v1h-1zM689 170h1v1h-1zM689 185h1v1h-1zM689 199h1v1h-1zM689 213h1v1h-1zM689 228h1v1h-1zM689 242h1v1h-1zM689 257h1v1h-1zM689 271h1v1h-1zM689 285h1v1h-1zM689 300h1v1h-1zM689 314h1v1h-1zM689 329h1v1h-1zM689 343h1v1h-1zM689 357h1v1h-1zM689 372h1v1h-1zM689 386h1v1h-1zM689 401h1v1h-1zM689 415h1v1h-1zM689 429h1v1h-1zM689 444h1v1h-1zM689 458h1v1h-1zM689 473h1v1h-1zM689 487h1v1h-1zM689 501h1v1h-1zM704 12h1v1h-1zM704 26h1v1h-1zM704 41h1v1h-1zM704 55h1v1h-1zM704 69h1v1h-1zM704 84h1v1h-1zM704 98h1v1h-1zM704 113h1v1h-1zM704 127h1v1h-1zM704 141h1v1h-1zM704 156h1v1h-1zM704 170h1v1h-1zM704 185h1v1h-1zM704 199h1v1h-1zM704 213h1v1h-1zM704 228h1v1h-1zM704 242h1v1h-1zM704 257h1v1h-1zM704 271h1v1h-1zM704 285h1v1h-1zM704 300h1v1h-1zM704 314h1v1h-1zM704 329h1v1h-1zM704 343h1v1h-1zM704 357h1v1h-1zM704 372h1v1h-1zM704 386h1v1h-1zM704 401h1v1h-1zM704 415h1v1h-1zM704 429h1v1h-1zM704 444h1v1h-1zM704 458h1v1h-1zM704 473h1v1h-1zM704 487h1v1h-1zM704 501h1v1h-1zM718 12h1v1h-1zM718 26h1v1h-1zM718 41h1v1h-1zM718 55h1v1h-1zM718 69h1v1h-1zM718 84h1v1h-1zM718 98h1v1h-1zM718 113h1v1h-1zM718 127h1v1h-1zM718 141h1v1h-1zM718 156h1v1h-1zM718 170h1v1h-1zM718 185h1v1h-1zM718 199h1v1h-1zM718 213h1v1h-1zM718 228h1v1h-1zM718 242h1v1h-1zM718 257h1v1h-1zM718 271h1v1h-1zM718 285h1v1h-1zM718 300h1v1h-1zM718 314h1v1h-1zM718 329h1v1h-1zM718 343h1v1h-1zM718 357h1v1h-1zM718 372h1v1h-1zM718 386h1v1h-1zM718 401h1v1h-1zM718 415h1v1h-1zM718 429h1v1h-1zM718 444h1v1h-1zM718 458h1v1h-1zM718 473h1v1h-1zM718 487h1v1h-1zM718 501h1v1h-1zM733 12h1v1h-1zM733 26h1v1h-1zM733 41h1v1h-1zM733 55h1v1h-1zM733 69h1v1h-1zM733 84h1v1h-1zM733 98h1v1h-1zM733 113h1v1h-1zM733 127h1v1h-1zM733 141h1v1h-1zM733 156h1v1h-1zM733 170h1v1h-1zM733 185h1v1h-1zM733 199h1v1h-1zM733 213h1v1h-1zM733 228h1v1h-1zM733 242h1v1h-1zM733 257h1v1h-1zM733 271h1v1h-1zM733 285h1v1h-1zM733 300h1v1h-1zM733 314h1v1h-1zM733 329h1v1h-1zM733 343h1v1h-1zM733 357h1v1h-1zM733 372h1v1h-1zM733 386h1v1h-1zM733 401h1v1h-1zM733 415h1v1h-1zM733 429h1v1h-1zM733 444h1v1h-1zM733 458h1v1h-1zM733 473h1v1h-1zM733 487h1v1h-1zM733 501h1v1h-1zM747 12h1v1h-1zM747 26h1v1h-1zM747 41h1v1h-1zM747 55h1v1h-1zM747 69h1v1h-1zM747 84h1v1h-1zM747 98h1v1h-1zM747 113h1v1h-1zM747 127h1v1h-1zM747 141h1v1h-1zM747 156h1v1h-1zM747 170h1v1h-1zM747 185h1v1h-1zM747 199h1v1h-1zM747 213h1v1h-1zM747 228h1v1h-1zM747 242h1v1h-1zM747 257h1v1h-1zM747 271h1v1h-1zM747 285h1v1h-1zM747 300h1v1h-1zM747 314h1v1h-1zM747 329h1v1h-1zM747 343h1v1h-1zM747 357h1v1h-1zM747 372h1v1h-1zM747 386h1v1h-1zM747 401h1v1h-1zM747 415h1v1h-1zM747 429h1v1h-1zM747 444h1v1h-1zM747 458h1v1h-1zM747 473h1v1h-1zM747 487h1v1h-1zM747 501h1v1h-1zM761 12h1v1h-1zM761 26h1v1h-1zM761 41h1v1h-1zM761 55h1v1h-1zM761 69h1v1h-1zM761 84h1v1h-1zM761 98h1v1h-1zM761 113h1v1h-1zM761 127h1v1h-1zM761 141h1v1h-1zM761 156h1v1h-1zM761 170h1v1h-1zM761 185h1v1h-1zM761 199h1v1h-1zM761 213h1v1h-1zM761 228h1v1h-1zM761 242h1v1h-1zM761 257h1v1h-1zM761 271h1v1h-1zM761 285h1v1h-1zM761 300h1v1h-1zM761 314h1v1h-1zM761 329h1v1h-1zM761 343h1v1h-1zM761 357h1v1h-1zM761 372h1v1h-1zM761 386h1v1h-1zM761 401h1v1h-1zM761 415h1v1h-1zM761 429h1v1h-1zM761 444h1v1h-1zM761 458h1v1h-1zM761 473h1v1h-1zM761 487h1v1h-1zM761 501h1v1h-1zM776 12h1v1h-1zM776 26h1v1h-1zM776 41h1v1h-1zM776 55h1v1h-1zM776 69h1v1h-1zM776 84h1v1h-1zM776 98h1v1h-1zM776 113h1v1h-1zM776 127h1v1h-1zM776 141h1v1h-1zM776 156h1v1h-1zM776 170h1v1h-1zM776 185h1v1h-1zM776 199h1v1h-1zM776 213h1v1h-1zM776 228h1v1h-1zM776 242h1v1h-1zM776 257h1v1h-1zM776 271h1v1h-1zM776 285h1v1h-1zM776 300h1v1h-1zM776 314h1v1h-1zM776 329h1v1h-1zM776 343h1v1h-1zM776 357h1v1h-1zM776 372h1v1h-1zM776 386h1v1h-1zM776 401h1v1h-1zM776 415h1v1h-1zM776 429h1v1h-1zM776 444h1v1h-1zM776 458h1v1h-1zM776 473h1v1h-1zM776 487h1v1h-1zM776 501h1v1h-1zM790 12h1v1h-1zM790 26h1v1h-1zM790 41h1v1h-1zM790 55h1v1h-1zM790 69h1v1h-1zM790 84h1v1h-1zM790 98h1v1h-1zM790 113h1v1h-1zM790 127h1v1h-1zM790 141h1v1h-1zM790 156h1v1h-1zM790 170h1v1h-1zM790 185h1v1h-1zM790 199h1v1h-1zM790 213h1v1h-1zM790 228h1v1h-1zM790 242h1v1h-1zM790 257h1v1h-1zM790 271h1v1h-1zM790 285h1v1h-1zM790 300h1v1h-1zM790 314h1v1h-1zM790 329h1v1h-1zM790 343h1v1h-1zM790 357h1v1h-1zM790 372h1v1h-1zM790 386h1v1h-1zM790 401h1v1h-1zM790 415h1v1h-1zM790 429h1v1h-1zM790 444h1v1h-1zM790 458h1v1h-1zM790 473h1v1h-1zM790 487h1v1h-1zM790 501h1v1h-1zM805 12h1v1h-1zM805 26h1v1h-1zM805 41h1v1h-1zM805 55h1v1h-1zM805 69h1v1h-1zM805 84h1v1h-1zM805 98h1v1h-1zM805 113h1v1h-1zM805 127h1v1h-1zM805 141h1v1h-1zM805 156h1v1h-1zM805 170h1v1h-1zM805 185h1v1h-1zM805 199h1v1h-1zM805 213h1v1h-1zM805 228h1v1h-1zM805 242h1v1h-1zM805 257h1v1h-1zM805 271h1v1h-1zM805 285h1v1h-1zM805 300h1v1h-1zM805 314h1v1h-1zM805 329h1v1h-1zM805 343h1v1h-1zM805 357h1v1h-1zM805 372h1v1h-1zM805 386h1v1h-1zM805 401h1v1h-1zM805 415h1v1h-1zM805 429h1v1h-1zM805 444h1v1h-1zM805 458h1v1h-1zM805 473h1v1h-1zM805 487h1v1h-1zM805 501h1v1h-1zM819 12h1v1h-1zM819 26h1v1h-1zM819 41h1v1h-1zM819 55h1v1h-1zM819 69h1v1h-1zM819 84h1v1h-1zM819 98h1v1h-1zM819 113h1v1h-1zM819 127h1v1h-1zM819 141h1v1h-1zM819 156h1v1h-1zM819 170h1v1h-1zM819 185h1v1h-1zM819 199h1v1h-1zM819 213h1v1h-1zM819 228h1v1h-1zM819 242h1v1h-1zM819 257h1v1h-1zM819 271h1v1h-1zM819 285h1v1h-1zM819 300h1v1h-1zM819 314h1v1h-1zM819 329h1v1h-1zM819 343h1v1h-1zM819 357h1v1h-1zM819 372h1v1h-1zM819 386h1v1h-1zM819 401h1v1h-1zM819 415h1v1h-1zM819 429h1v1h-1zM819 444h1v1h-1zM819 458h1v1h-1zM819 473h1v1h-1zM819 487h1v1h-1zM819 501h1v1h-1zM833 12h1v1h-1zM833 26h1v1h-1zM833 41h1v1h-1zM833 55h1v1h-1zM833 69h1v1h-1zM833 84h1v1h-1zM833 98h1v1h-1zM833 113h1v1h-1zM833 127h1v1h-1zM833 141h1v1h-1zM833 156h1v1h-1zM833 170h1v1h-1zM833 185h1v1h-1zM833 199h1v1h-1zM833 213h1v1h-1zM833 228h1v1h-1zM833 242h1v1h-1zM833 257h1v1h-1zM833 271h1v1h-1zM833 285h1v1h-1zM833 300h1v1h-1zM833 314h1v1h-1zM833 329h1v1h-1zM833 343h1v1h-1zM833 357h1v1h-1zM833 372h1v1h-1zM833 386h1v1h-1zM833 401h1v1h-1zM833 415h1v1h-1zM833 429h1v1h-1zM833 444h1v1h-1zM833 458h1v1h-1zM833 473h1v1h-1zM833 487h1v1h-1zM833 501h1v1h-1zM848 12h1v1h-1zM848 26h1v1h-1zM848 41h1v1h-1zM848 55h1v1h-1zM848 69h1v1h-1zM848 84h1v1h-1zM848 98h1v1h-1zM848 113h1v1h-1zM848 127h1v1h-1zM848 141h1v1h-1zM848 156h1v1h-1zM848 170h1v1h-1zM848 185h1v1h-1zM848 199h1v1h-1zM848 213h1v1h-1zM848 228h1v1h-1zM848 242h1v1h-1zM848 257h1v1h-1zM848 271h1v1h-1zM848 285h1v1h-1zM848 300h1v1h-1zM848 314h1v1h-1zM848 329h1v1h-1zM848 343h1v1h-1zM848 357h1v1h-1zM848 372h1v1h-1zM848 386h1v1h-1zM848 401h1v1h-1zM848 415h1v1h-1zM848 429h1v1h-1zM848 444h1v1h-1zM848 458h1v1h-1zM848 473h1v1h-1zM848 487h1v1h-1zM848 501h1v1h-1zM862 12h1v1h-1zM862 26h1v1h-1zM862 41h1v1h-1zM862 55h1v1h-1zM862 69h1v1h-1zM862 84h1v1h-1zM862 98h1v1h-1zM862 113h1v1h-1zM862 127h1v1h-1zM862 141h1v1h-1zM862 156h1v1h-1zM862 170h1v1h-1zM862 185h1v1h-1zM862 199h1v1h-1zM862 213h1v1h-1zM862 228h1v1h-1zM862 242h1v1h-1zM862 257h1v1h-1zM862 271h1v1h-1zM862 285h1v1h-1zM862 300h1v1h-1zM862 314h1v1h-1zM862 329h1v1h-1zM862 343h1v1h-1zM862 357h1v1h-1zM862 372h1v1h-1zM862 386h1v1h-1zM862 401h1v1h-1zM862 415h1v1h-1zM862 429h1v1h-1zM862 444h1v1h-1zM862 458h1v1h-1zM862 473h1v1h-1zM862 487h1v1h-1zM862 501h1v1h-1zM877 12h1v1h-1zM877 26h1v1h-1zM877 41h1v1h-1zM877 55h1v1h-1zM877 69h1v1h-1zM877 84h1v1h-1zM877 98h1v1h-1zM877 113h1v1h-1zM877 127h1v1h-1zM877 141h1v1h-1zM877 156h1v1h-1zM877 170h1v1h-1zM877 185h1v1h-1zM877 199h1v1h-1zM877 213h1v1h-1zM877 228h1v1h-1zM877 242h1v1h-1zM877 257h1v1h-1zM877 271h1v1h-1zM877 285h1v1h-1zM877 300h1v1h-1zM877 314h1v1h-1zM877 329h1v1h-1zM877 343h1v1h-1zM877 357h1v1h-1zM877 372h1v1h-1zM877 386h1v1h-1zM877 401h1v1h-1zM877 415h1v1h-1zM877 429h1v1h-1zM877 444h1v1h-1zM877 458h1v1h-1zM877 473h1v1h-1zM877 487h1v1h-1zM877 501h1v1h-1zM891 12h1v1h-1zM891 26h1v1h-1zM891 41h1v1h-1zM891 55h1v1h-1zM891 69h1v1h-1zM891 84h1v1h-1zM891 98h1v1h-1zM891 113h1v1h-1zM891 127h1v1h-1zM891 141h1v1h-1zM891 156h1v1h-1zM891 170h1v1h-1zM891 185h1v1h-1zM891 199h1v1h-1zM891 213h1v1h-1zM891 228h1v1h-1zM891 242h1v1h-1zM891 257h1v1h-1zM891 271h1v1h-1zM891 285h1v1h-1zM891 300h1v1h-1zM891 314h1v1h-1zM891 329h1v1h-1zM891 343h1v1h-1zM891 357h1v1h-1zM891 372h1v1h-1zM891 386h1v1h-1zM891 401h1v1h-1zM891 415h1v1h-1zM891 429h1v1h-1zM891 444h1v1h-1zM891 458h1v1h-1zM891 473h1v1h-1zM891 487h1v1h-1zM891 501h1v1h-1zM905 12h1v1h-1zM905 26h1v1h-1zM905 41h1v1h-1zM905 55h1v1h-1zM905 69h1v1h-1zM905 84h1v1h-1zM905 98h1v1h-1zM905 113h1v1h-1zM905 127h1v1h-1zM905 141h1v1h-1zM905 156h1v1h-1zM905 170h1v1h-1zM905 185h1v1h-1zM905 199h1v1h-1zM905 213h1v1h-1zM905 228h1v1h-1zM905 242h1v1h-1zM905 257h1v1h-1zM905 271h1v1h-1zM905 285h1v1h-1zM905 300h1v1h-1zM905 314h1v1h-1zM905 329h1v1h-1zM905 343h1v1h-1zM905 357h1v1h-1zM905 372h1v1h-1zM905 386h1v1h-1zM905 401h1v1h-1zM905 415h1v1h-1zM905 429h1v1h-1zM905 444h1v1h-1zM905 458h1v1h-1zM905 473h1v1h-1zM905 487h1v1h-1zM905 501h1v1h-1zM920 12h1v1h-1zM920 26h1v1h-1zM920 41h1v1h-1zM920 55h1v1h-1zM920 69h1v1h-1zM920 84h1v1h-1zM920 98h1v1h-1zM920 113h1v1h-1zM920 127h1v1h-1zM920 141h1v1h-1zM920 156h1v1h-1zM920 170h1v1h-1zM920 185h1v1h-1zM920 199h1v1h-1zM920 213h1v1h-1zM920 228h1v1h-1zM920 242h1v1h-1zM920 257h1v1h-1zM920 271h1v1h-1zM920 285h1v1h-1zM920 300h1v1h-1zM920 314h1v1h-1zM920 329h1v1h-1zM920 343h1v1h-1zM920 357h1v1h-1zM920 372h1v1h-1zM920 386h1v1h-1zM920 401h1v1h-1zM920 415h1v1h-1zM920 429h1v1h-1zM920 444h1v1h-1zM920 458h1v1h-1zM920 473h1v1h-1zM920 487h1v1h-1zM920 501h1v1h-1zM934 12h1v1h-1zM934 26h1v1h-1zM934 41h1v1h-1zM934 55h1v1h-1zM934 69h1v1h-1zM934 84h1v1h-1zM934 98h1v1h-1zM934 113h1v1h-1zM934 127h1v1h-1zM934 141h1v1h-1zM934 156h1v1h-1zM934 170h1v1h-1zM934 185h1v1h-1zM934 199h1v1h-1zM934 213h1v1h-1zM934 228h1v1h-1zM934 242h1v1h-1zM934 257h1v1h-1zM934 271h1v1h-1zM934 285h1v1h-1zM934 300h1v1h-1zM934 314h1v1h-1zM934 329h1v1h-1zM934 343h1v1h-1zM934 357h1v1h-1zM934 372h1v1h-1zM934 386h1v1h-1zM934 401h1v1h-1zM934 415h1v1h-1zM934 429h1v1h-1zM934 444h1v1h-1zM934 458h1v1h-1zM934 473h1v1h-1zM934 487h1v1h-1zM934 501h1v1h-1zM949 12h1v1h-1zM949 26h1v1h-1zM949 41h1v1h-1zM949 55h1v1h-1zM949 69h1v1h-1zM949 84h1v1h-1zM949 98h1v1h-1zM949 113h1v1h-1zM949 127h1v1h-1zM949 141h1v1h-1zM949 156h1v1h-1zM949 170h1v1h-1zM949 185h1v1h-1zM949 199h1v1h-1zM949 213h1v1h-1zM949 228h1v1h-1zM949 242h1v1h-1zM949 257h1v1h-1zM949 271h1v1h-1zM949 285h1v1h-1zM949 300h1v1h-1zM949 314h1v1h-1zM949 329h1v1h-1zM949 343h1v1h-1zM949 357h1v1h-1zM949 372h1v1h-1zM949 386h1v1h-1zM949 401h1v1h-1zM949 415h1v1h-1zM949 429h1v1h-1zM949 444h1v1h-1zM949 458h1v1h-1zM949 473h1v1h-1zM949 487h1v1h-1zM949 501h1v1h-1zM963 12h1v1h-1zM963 26h1v1h-1zM963 41h1v1h-1zM963 55h1v1h-1zM963 69h1v1h-1zM963 84h1v1h-1zM963 98h1v1h-1zM963 113h1v1h-1zM963 127h1v1h-1zM963 141h1v1h-1zM963 156h1v1h-1zM963 170h1v1h-1zM963 185h1v1h-1zM963 199h1v1h-1zM963 213h1v1h-1zM963 228h1v1h-1zM963 242h1v1h-1zM963 257h1v1h-1zM963 271h1v1h-1zM963 285h1v1h-1zM963 300h1v1h-1zM963 314h1v1h-1zM963 329h1v1h-1zM963 343h1v1h-1zM963 357h1v1h-1zM963 372h1v1h-1zM963 386h1v1h-1zM963 401h1v1h-1zM963 415h1v1h-1zM963 429h1v1h-1zM963 444h1v1h-1zM963 458h1v1h-1zM963 473h1v1h-1zM963 487h1v1h-1zM963 501h1v1h-1zM977 12h1v1h-1zM977 26h1v1h-1zM977 41h1v1h-1zM977 55h1v1h-1zM977 69h1v1h-1zM977 84h1v1h-1zM977 98h1v1h-1zM977 113h1v1h-1zM977 127h1v1h-1zM977 141h1v1h-1zM977 156h1v1h-1zM977 170h1v1h-1zM977 185h1v1h-1zM977 199h1v1h-1zM977 213h1v1h-1zM977 228h1v1h-1zM977 242h1v1h-1zM977 257h1v1h-1zM977 271h1v1h-1zM977 285h1v1h-1zM977 300h1v1h-1zM977 314h1v1h-1zM977 329h1v1h-1zM977 343h1v1h-1zM977 357h1v1h-1zM977 372h1v1h-1zM977 386h1v1h-1zM977 401h1v1h-1zM977 415h1v1h-1zM977 429h1v1h-1zM977 444h1v1h-1zM977 458h1v1h-1zM977 473h1v1h-1zM977 487h1v1h-1zM977 501h1v1h-1zM992 12h1v1h-1zM992 26h1v1h-1zM992 41h1v1h-1zM992 55h1v1h-1zM992 69h1v1h-1zM992 84h1v1h-1zM992 98h1v1h-1zM992 113h1v1h-1zM992 127h1v1h-1zM992 141h1v1h-1zM992 156h1v1h-1zM992 170h1v1h-1zM992 185h1v1h-1zM992 199h1v1h-1zM992 213h1v1h-1zM992 228h1v1h-1zM992 242h1v1h-1zM992 257h1v1h-1zM992 271h1v1h-1zM992 285h1v1h-1zM992 300h1v1h-1zM992 314h1v1h-1zM992 329h1v1h-1zM992 343h1v1h-1zM992 357h1v1h-1zM992 372h1v1h-1zM992 386h1v1h-1zM992 401h1v1h-1zM992 415h1v1h-1zM992 429h1v1h-1zM992 444h1v1h-1zM992 458h1v1h-1zM992 473h1v1h-1zM992 487h1v1h-1zM992 501h1v1h-1zM1006 12h1v1h-1zM1006 26h1v1h-1zM1006 41h1v1h-1zM1006 55h1v1h-1zM1006 69h1v1h-1zM1006 84h1v1h-1zM1006 98h1v1h-1zM1006 113h1v1h-1zM1006 127h1v1h-1zM1006 141h1v1h-1zM1006 156h1v1h-1zM1006 170h1v1h-1zM1006 185h1v1h-1zM1006 199h1v1h-1zM1006 213h1v1h-1zM1006 228h1v1h-1zM1006 242h1v1h-1zM1006 257h1v1h-1zM1006 271h1v1h-1zM1006 285h1v1h-1zM1006 300h1v1h-1zM1006 314h1v1h-1zM1006 329h1v1h-1zM1006 343h1v1h-1zM1006 357h1v1h-1zM1006 372h1v1h-1zM1006 386h1v1h-1zM1006 401h1v1h-1zM1006 415h1v1h-1zM1006 429h1v1h-1zM1006 444h1v1h-1zM1006 458h1v1h-1zM1006 473h1v1h-1zM1006 487h1v1h-1zM1006 501h1v1h-1zM1021 12h1v1h-1zM1021 26h1v1h-1zM1021 41h1v1h-1zM1021 55h1v1h-1zM1021 69h1v1h-1zM1021 84h1v1h-1zM1021 98h1v1h-1zM1021 113h1v1h-1zM1021 127h1v1h-1zM1021 141h1v1h-1zM1021 156h1v1h-1zM1021 170h1v1h-1zM1021 185h1v1h-1zM1021 199h1v1h-1zM1021 213h1v1h-1zM1021 228h1v1h-1zM1021 242h1v1h-1zM1021 257h1v1h-1zM1021 271h1v1h-1zM1021 285h1v1h-1zM1021 300h1v1h-1zM1021 314h1v1h-1zM1021 329h1v1h-1zM1021 343h1v1h-1zM1021 357h1v1h-1zM1021 372h1v1h-1zM1021 386h1v1h-1zM1021 401h1v1h-1zM1021 415h1v1h-1zM1021 429h1v1h-1zM1021 444h1v1h-1zM1021 458h1v1h-1zM1021 473h1v1h-1zM1021 487h1v1h-1zM1021 501h1v1h-1zM1035 12h1v1h-1zM1035 26h1v1h-1zM1035 41h1v1h-1zM1035 55h1v1h-1zM1035 69h1v1h-1zM1035 84h1v1h-1zM1035 98h1v1h-1zM1035 113h1v1h-1zM1035 127h1v1h-1zM1035 141h1v1h-1zM1035 156h1v1h-1zM1035 170h1v1h-1zM1035 185h1v1h-1zM1035 199h1v1h-1zM1035 213h1v1h-1zM1035 228h1v1h-1zM1035 242h1v1h-1zM1035 257h1v1h-1zM1035 271h1v1h-1zM1035 285h1v1h-1zM1035 300h1v1h-1zM1035 314h1v1h-1zM1035 329h1v1h-1zM1035 343h1v1h-1zM1035 357h1v1h-1zM1035 372h1v1h-1zM1035 386h1v1h-1zM1035 401h1v1h-1zM1035 415h1v1h-1zM1035 429h1v1h-1zM1035 444h1v1h-1zM1035 458h1v1h-1zM1035 473h1v1h-1zM1035 487h1v1h-1zM1035 501h1v1h-1zM1049 12h1v1h-1zM1049 26h1v1h-1zM1049 41h1v1h-1zM1049 55h1v1h-1zM1049 69h1v1h-1zM1049 84h1v1h-1zM1049 98h1v1h-1zM1049 113h1v1h-1zM1049 127h1v1h-1zM1049 141h1v1h-1zM1049 156h1v1h-1zM1049 170h1v1h-1zM1049 185h1v1h-1zM1049 199h1v1h-1zM1049 213h1v1h-1zM1049 228h1v1h-1zM1049 242h1v1h-1zM1049 257h1v1h-1zM1049 271h1v1h-1zM1049 285h1v1h-1zM1049 300h1v1h-1zM1049 314h1v1h-1zM1049 329h1v1h-1zM1049 343h1v1h-1zM1049 357h1v1h-1zM1049 372h1v1h-1zM1049 386h1v1h-1zM1049 401h1v1h-1zM1049 415h1v1h-1zM1049 429h1v1h-1zM1049 444h1v1h-1zM1049 458h1v1h-1zM1049 473h1v1h-1zM1049 487h1v1h-1zM1049 501h1v1h-1zM1064 12h1v1h-1zM1064 26h1v1h-1zM1064 41h1v1h-1zM1064 55h1v1h-1zM1064 69h1v1h-1zM1064 84h1v1h-1zM1064 98h1v1h-1zM1064 113h1v1h-1zM1064 127h1v1h-1zM1064 141h1v1h-1zM1064 156h1v1h-1zM1064 170h1v1h-1zM1064 185h1v1h-1zM1064 199h1v1h-1zM1064 213h1v1h-1zM1064 228h1v1h-1zM1064 242h1v1h-1zM1064 257h1v1h-1zM1064 271h1v1h-1zM1064 285h1v1h-1zM1064 300h1v1h-1zM1064 314h1v1h-1zM1064 329h1v1h-1zM1064 343h1v1h-1zM1064 357h1v1h-1zM1064 372h1v1h-1zM1064 386h1v1h-1zM1064 401h1v1h-1zM1064 415h1v1h-1zM1064 429h1v1h-1zM1064 444h1v1h-1zM1064 458h1v1h-1zM1064 473h1v1h-1zM1064 487h1v1h-1zM1064 501h1v1h-1zM1078 12h1v1h-1zM1078 26h1v1h-1zM1078 41h1v1h-1zM1078 55h1v1h-1zM1078 69h1v1h-1zM1078 84h1v1h-1zM1078 98h1v1h-1zM1078 113h1v1h-1zM1078 127h1v1h-1zM1078 141h1v1h-1zM1078 156h1v1h-1zM1078 170h1v1h-1zM1078 185h1v1h-1zM1078 199h1v1h-1zM1078 213h1v1h-1zM1078 228h1v1h-1zM1078 242h1v1h-1zM1078 257h1v1h-1zM1078 271h1v1h-1zM1078 285h1v1h-1zM1078 300h1v1h-1zM1078 314h1v1h-1zM1078 329h1v1h-1zM1078 343h1v1h-1zM1078 357h1v1h-1zM1078 372h1v1h-1zM1078 386h1v1h-1zM1078 401h1v1h-1zM1078 415h1v1h-1zM1078 429h1v1h-1zM1078 444h1v1h-1zM1078 458h1v1h-1zM1078 473h1v1h-1zM1078 487h1v1h-1zM1078 501h1v1h-1zM1093 12h1v1h-1zM1093 26h1v1h-1zM1093 41h1v1h-1zM1093 55h1v1h-1zM1093 69h1v1h-1zM1093 84h1v1h-1zM1093 98h1v1h-1zM1093 113h1v1h-1zM1093 127h1v1h-1zM1093 141h1v1h-1zM1093 156h1v1h-1zM1093 170h1v1h-1zM1093 185h1v1h-1zM1093 199h1v1h-1zM1093 213h1v1h-1zM1093 228h1v1h-1zM1093 242h1v1h-1zM1093 257h1v1h-1zM1093 271h1v1h-1zM1093 285h1v1h-1zM1093 300h1v1h-1zM1093 314h1v1h-1zM1093 329h1v1h-1zM1093 343h1v1h-1zM1093 357h1v1h-1zM1093 372h1v1h-1zM1093 386h1v1h-1zM1093 401h1v1h-1zM1093 415h1v1h-1zM1093 429h1v1h-1zM1093 444h1v1h-1zM1093 458h1v1h-1zM1093 473h1v1h-1zM1093 487h1v1h-1zM1093 501h1v1h-1zM1107 12h1v1h-1zM1107 26h1v1h-1zM1107 41h1v1h-1zM1107 55h1v1h-1zM1107 69h1v1h-1zM1107 84h1v1h-1zM1107 98h1v1h-1zM1107 113h1v1h-1zM1107 127h1v1h-1zM1107 141h1v1h-1zM1107 156h1v1h-1zM1107 170h1v1h-1zM1107 185h1v1h-1zM1107 199h1v1h-1zM1107 213h1v1h-1zM1107 228h1v1h-1zM1107 242h1v1h-1zM1107 257h1v1h-1zM1107 271h1v1h-1zM1107 285h1v1h-1zM1107 300h1v1h-1zM1107 314h1v1h-1zM1107 329h1v1h-1zM1107 343h1v1h-1zM1107 357h1v1h-1zM1107 372h1v1h-1zM1107 386h1v1h-1zM1107 401h1v1h-1zM1107 415h1v1h-1zM1107 429h1v1h-1zM1107 444h1v1h-1zM1107 458h1v1h-1zM1107 473h1v1h-1zM1107 487h1v1h-1zM1107 501h1v1h-1zM1121 12h1v1h-1zM1121 26h1v1h-1zM1121 41h1v1h-1zM1121 55h1v1h-1zM1121 69h1v1h-1zM1121 84h1v1h-1zM1121 98h1v1h-1zM1121 113h1v1h-1zM1121 127h1v1h-1zM1121 141h1v1h-1zM1121 156h1v1h-1zM1121 170h1v1h-1zM1121 185h1v1h-1zM1121 199h1v1h-1zM1121 213h1v1h-1zM1121 228h1v1h-1zM1121 242h1v1h-1zM1121 257h1v1h-1zM1121 271h1v1h-1zM1121 285h1v1h-1zM1121 300h1v1h-1zM1121 314h1v1h-1zM1121 329h1v1h-1zM1121 343h1v1h-1zM1121 357h1v1h-1zM1121 372h1v1h-1zM1121 386h1v1h-1zM1121 401h1v1h-1zM1121 415h1v1h-1zM1121 429h1v1h-1zM1121 444h1v1h-1zM1121 458h1v1h-1zM1121 473h1v1h-1zM1121 487h1v1h-1zM1121 501h1v1h-1zM1136 12h1v1h-1zM1136 26h1v1h-1zM1136 41h1v1h-1zM1136 55h1v1h-1zM1136 69h1v1h-1zM1136 84h1v1h-1zM1136 98h1v1h-1zM1136 113h1v1h-1zM1136 127h1v1h-1zM1136 141h1v1h-1zM1136 156h1v1h-1zM1136 170h1v1h-1zM1136 185h1v1h-1zM1136 199h1v1h-1zM1136 213h1v1h-1zM1136 228h1v1h-1zM1136 242h1v1h-1zM1136 257h1v1h-1zM1136 271h1v1h-1zM1136 285h1v1h-1zM1136 300h1v1h-1zM1136 314h1v1h-1zM1136 329h1v1h-1zM1136 343h1v1h-1zM1136 357h1v1h-1zM1136 372h1v1h-1zM1136 386h1v1h-1zM1136 401h1v1h-1zM1136 415h1v1h-1zM1136 429h1v1h-1zM1136 444h1v1h-1zM1136 458h1v1h-1zM1136 473h1v1h-1zM1136 487h1v1h-1zM1136 501h1v1h-1zM1150 12h1v1h-1zM1150 26h1v1h-1zM1150 41h1v1h-1zM1150 55h1v1h-1zM1150 69h1v1h-1zM1150 84h1v1h-1zM1150 98h1v1h-1zM1150 113h1v1h-1zM1150 127h1v1h-1zM1150 141h1v1h-1zM1150 156h1v1h-1zM1150 170h1v1h-1zM1150 185h1v1h-1zM1150 199h1v1h-1zM1150 213h1v1h-1zM1150 228h1v1h-1zM1150 242h1v1h-1zM1150 257h1v1h-1zM1150 271h1v1h-1zM1150 285h1v1h-1zM1150 300h1v1h-1zM1150 314h1v1h-1zM1150 329h1v1h-1zM1150 343h1v1h-1zM1150 357h1v1h-1zM1150 372h1v1h-1zM1150 386h1v1h-1zM1150 401h1v1h-1zM1150 415h1v1h-1zM1150 429h1v1h-1zM1150 444h1v1h-1zM1150 458h1v1h-1zM1150 473h1v1h-1zM1150 487h1v1h-1zM1150 501h1v1h-1zM1165 12h1v1h-1zM1165 26h1v1h-1zM1165 41h1v1h-1zM1165 55h1v1h-1zM1165 69h1v1h-1zM1165 84h1v1h-1zM1165 98h1v1h-1zM1165 113h1v1h-1zM1165 127h1v1h-1zM1165 141h1v1h-1zM1165 156h1v1h-1zM1165 170h1v1h-1zM1165 185h1v1h-1zM1165 199h1v1h-1zM1165 213h1v1h-1zM1165 228h1v1h-1zM1165 242h1v1h-1zM1165 257h1v1h-1zM1165 271h1v1h-1zM1165 285h1v1h-1zM1165 300h1v1h-1zM1165 314h1v1h-1zM1165 329h1v1h-1zM1165 343h1v1h-1zM1165 357h1v1h-1zM1165 372h1v1h-1zM1165 386h1v1h-1zM1165 401h1v1h-1zM1165 415h1v1h-1zM1165 429h1v1h-1zM1165 444h1v1h-1zM1165 458h1v1h-1zM1165 473h1v1h-1zM1165 487h1v1h-1zM1165 501h1v1h-1zM1179 12h1v1h-1zM1179 26h1v1h-1zM1179 41h1v1h-1zM1179 55h1v1h-1zM1179 69h1v1h-1zM1179 84h1v1h-1zM1179 98h1v1h-1zM1179 113h1v1h-1zM1179 127h1v1h-1zM1179 141h1v1h-1zM1179 156h1v1h-1zM1179 170h1v1h-1zM1179 185h1v1h-1zM1179 199h1v1h-1zM1179 213h1v1h-1zM1179 228h1v1h-1zM1179 242h1v1h-1zM1179 257h1v1h-1zM1179 271h1v1h-1zM1179 285h1v1h-1zM1179 300h1v1h-1zM1179 314h1v1h-1zM1179 329h1v1h-1zM1179 343h1v1h-1zM1179 357h1v1h-1zM1179 372h1v1h-1zM1179 386h1v1h-1zM1179 401h1v1h-1zM1179 415h1v1h-1zM1179 429h1v1h-1zM1179 444h1v1h-1zM1179 458h1v1h-1zM1179 473h1v1h-1zM1179 487h1v1h-1zM1179 501h1v1h-1zM1193 12h1v1h-1zM1193 26h1v1h-1zM1193 41h1v1h-1zM1193 55h1v1h-1zM1193 69h1v1h-1zM1193 84h1v1h-1zM1193 98h1v1h-1zM1193 113h1v1h-1zM1193 127h1v1h-1zM1193 141h1v1h-1zM1193 156h1v1h-1zM1193 170h1v1h-1zM1193 185h1v1h-1zM1193 199h1v1h-1zM1193 213h1v1h-1zM1193 228h1v1h-1zM1193 242h1v1h-1zM1193 257h1v1h-1zM1193 271h1v1h-1zM1193 285h1v1h-1zM1193 300h1v1h-1zM1193 314h1v1h-1zM1193 329h1v1h-1zM1193 343h1v1h-1zM1193 357h1v1h-1zM1193 372h1v1h-1zM1193 386h1v1h-1zM1193 401h1v1h-1zM1193 415h1v1h-1zM1193 429h1v1h-1zM1193 444h1v1h-1zM1193 458h1v1h-1zM1193 473h1v1h-1zM1193 487h1v1h-1zM1193 501h1v1h-1zM1208 12h1v1h-1zM1208 26h1v1h-1zM1208 41h1v1h-1zM1208 55h1v1h-1zM1208 69h1v1h-1zM1208 84h1v1h-1zM1208 98h1v1h-1zM1208 113h1v1h-1zM1208 127h1v1h-1zM1208 141h1v1h-1zM1208 156h1v1h-1zM1208 170h1v1h-1zM1208 185h1v1h-1zM1208 199h1v1h-1zM1208 213h1v1h-1zM1208 228h1v1h-1zM1208 242h1v1h-1zM1208 257h1v1h-1zM1208 271h1v1h-1zM1208 285h1v1h-1zM1208 300h1v1h-1zM1208 314h1v1h-1zM1208 329h1v1h-1zM1208 343h1v1h-1zM1208 357h1v1h-1zM1208 372h1v1h-1zM1208 386h1v1h-1zM1208 401h1v1h-1zM1208 415h1v1h-1zM1208 429h1v1h-1zM1208 444h1v1h-1zM1208 458h1v1h-1zM1208 473h1v1h-1zM1208 487h1v1h-1zM1208 501h1v1h-1zM1222 12h1v1h-1zM1222 26h1v1h-1zM1222 41h1v1h-1zM1222 55h1v1h-1zM1222 69h1v1h-1zM1222 84h1v1h-1zM1222 98h1v1h-1zM1222 113h1v1h-1zM1222 127h1v1h-1zM1222 141h1v1h-1zM1222 156h1v1h-1zM1222 170h1v1h-1zM1222 185h1v1h-1zM1222 199h1v1h-1zM1222 213h1v1h-1zM1222 228h1v1h-1zM1222 242h1v1h-1zM1222 257h1v1h-1zM1222 271h1v1h-1zM1222 285h1v1h-1zM1222 300h1v1h-1zM1222 314h1v1h-1zM1222 329h1v1h-1zM1222 343h1v1h-1zM1222 357h1v1h-1zM1222 372h1v1h-1zM1222 386h1v1h-1zM1222 401h1v1h-1zM1222 415h1v1h-1zM1222 429h1v1h-1zM1222 444h1v1h-1zM1222 458h1v1h-1zM1222 473h1v1h-1zM1222 487h1v1h-1zM1222 501h1v1h-1zM1236 12h1v1h-1zM1236 26h1v1h-1zM1236 41h1v1h-1zM1236 55h1v1h-1zM1236 69h1v1h-1zM1236 84h1v1h-1zM1236 98h1v1h-1zM1236 113h1v1h-1zM1236 127h1v1h-1zM1236 141h1v1h-1zM1236 156h1v1h-1zM1236 170h1v1h-1zM1236 185h1v1h-1zM1236 199h1v1h-1zM1236 213h1v1h-1zM1236 228h1v1h-1zM1236 242h1v1h-1zM1236 257h1v1h-1zM1236 271h1v1h-1zM1236 285h1v1h-1zM1236 300h1v1h-1zM1236 314h1v1h-1zM1236 329h1v1h-1zM1236 343h1v1h-1zM1236 357h1v1h-1zM1236 372h1v1h-1zM1236 386h1v1h-1zM1236 401h1v1h-1zM1236 415h1v1h-1zM1236 429h1v1h-1zM1236 444h1v1h-1zM1236 458h1v1h-1zM1236 473h1v1h-1zM1236 487h1v1h-1zM1236 501h1v1h-1zM1251 12h1v1h-1zM1251 26h1v1h-1zM1251 41h1v1h-1zM1251 55h1v1h-1zM1251 69h1v1h-1zM1251 84h1v1h-1zM1251 98h1v1h-1zM1251 113h1v1h-1zM1251 127h1v1h-1zM1251 141h1v1h-1zM1251 156h1v1h-1zM1251 170h1v1h-1zM1251 185h1v1h-1zM1251 199h1v1h-1zM1251 213h1v1h-1zM1251 228h1v1h-1zM1251 242h1v1h-1zM1251 257h1v1h-1zM1251 271h1v1h-1zM1251 285h1v1h-1zM1251 300h1v1h-1zM1251 314h1v1h-1zM1251 329h1v1h-1zM1251 343h1v1h-1zM1251 357h1v1h-1zM1251 372h1v1h-1zM1251 386h1v1h-1zM1251 401h1v1h-1zM1251 415h1v1h-1zM1251 429h1v1h-1zM1251 444h1v1h-1zM1251 458h1v1h-1zM1251 473h1v1h-1zM1251 487h1v1h-1zM1251 501h1v1h-1zM1265 12h1v1h-1zM1265 26h1v1h-1zM1265 41h1v1h-1zM1265 55h1v1h-1zM1265 69h1v1h-1zM1265 84h1v1h-1zM1265 98h1v1h-1zM1265 113h1v1h-1zM1265 127h1v1h-1zM1265 141h1v1h-1zM1265 156h1v1h-1zM1265 170h1v1h-1zM1265 185h1v1h-1zM1265 199h1v1h-1zM1265 213h1v1h-1zM1265 228h1v1h-1zM1265 242h1v1h-1zM1265 257h1v1h-1zM1265 271h1v1h-1zM1265 285h1v1h-1zM1265 300h1v1h-1zM1265 314h1v1h-1zM1265 329h1v1h-1zM1265 343h1v1h-1zM1265 357h1v1h-1zM1265 372h1v1h-1zM1265 386h1v1h-1zM1265 401h1v1h-1zM1265 415h1v1h-1zM1265 429h1v1h-1zM1265 444h1v1h-1zM1265 458h1v1h-1zM1265 473h1v1h-1zM1265 487h1v1h-1zM1265 501h1v1h-1zM1280 12h1v1h-1zM1280 26h1v1h-1zM1280 41h1v1h-1zM1280 55h1v1h-1zM1280 69h1v1h-1zM1280 84h1v1h-1zM1280 98h1v1h-1zM1280 113h1v1h-1zM1280 127h1v1h-1zM1280 141h1v1h-1zM1280 156h1v1h-1zM1280 170h1v1h-1zM1280 185h1v1h-1zM1280 199h1v1h-1zM1280 213h1v1h-1zM1280 228h1v1h-1zM1280 242h1v1h-1zM1280 257h1v1h-1zM1280 271h1v1h-1zM1280 285h1v1h-1zM1280 300h1v1h-1zM1280 314h1v1h-1zM1280 329h1v1h-1zM1280 343h1v1h-1zM1280 357h1v1h-1zM1280 372h1v1h-1zM1280 386h1v1h-1zM1280 401h1v1h-1zM1280 415h1v1h-1zM1280 429h1v1h-1zM1280 444h1v1h-1zM1280 458h1v1h-1zM1280 473h1v1h-1zM1280 487h1v1h-1zM1280 501h1v1h-1zM1294 12h1v1h-1zM1294 26h1v1h-1zM1294 41h1v1h-1zM1294 55h1v1h-1zM1294 69h1v1h-1zM1294 84h1v1h-1zM1294 98h1v1h-1zM1294 113h1v1h-1zM1294 127h1v1h-1zM1294 141h1v1h-1zM1294 156h1v1h-1zM1294 170h1v1h-1zM1294 185h1v1h-1zM1294 199h1v1h-1zM1294 213h1v1h-1zM1294 228h1v1h-1zM1294 242h1v1h-1zM1294 257h1v1h-1zM1294 271h1v1h-1zM1294 285h1v1h-1zM1294 300h1v1h-1zM1294 314h1v1h-1zM1294 329h1v1h-1zM1294 343h1v1h-1zM1294 357h1v1h-1zM1294 372h1v1h-1zM1294 386h1v1h-1zM1294 401h1v1h-1zM1294 415h1v1h-1zM1294 429h1v1h-1zM1294 444h1v1h-1zM1294 458h1v1h-1zM1294 473h1v1h-1zM1294 487h1v1h-1zM1294 501h1v1h-1zM1308 12h1v1h-1zM1308 26h1v1h-1zM1308 41h1v1h-1zM1308 55h1v1h-1zM1308 69h1v1h-1zM1308 84h1v1h-1zM1308 98h1v1h-1zM1308 113h1v1h-1zM1308 127h1v1h-1zM1308 141h1v1h-1zM1308 156h1v1h-1zM1308 170h1v1h-1zM1308 185h1v1h-1zM1308 199h1v1h-1zM1308 213h1v1h-1zM1308 228h1v1h-1zM1308 242h1v1h-1zM1308 257h1v1h-1zM1308 271h1v1h-1zM1308 285h1v1h-1zM1308 300h1v1h-1zM1308 314h1v1h-1zM1308 329h1v1h-1zM1308 343h1v1h-1zM1308 357h1v1h-1zM1308 372h1v1h-1zM1308 386h1v1h-1zM1308 401h1v1h-1zM1308 415h1v1h-1zM1308 429h1v1h-1zM1308 444h1v1h-1zM1308 458h1v1h-1zM1308 473h1v1h-1zM1308 487h1v1h-1zM1308 501h1v1h-1zM1323 12h1v1h-1zM1323 26h1v1h-1zM1323 41h1v1h-1zM1323 55h1v1h-1zM1323 69h1v1h-1zM1323 84h1v1h-1zM1323 98h1v1h-1zM1323 113h1v1h-1zM1323 127h1v1h-1zM1323 141h1v1h-1zM1323 156h1v1h-1zM1323 170h1v1h-1zM1323 185h1v1h-1zM1323 199h1v1h-1zM1323 213h1v1h-1zM1323 228h1v1h-1zM1323 242h1v1h-1zM1323 257h1v1h-1zM1323 271h1v1h-1zM1323 285h1v1h-1zM1323 300h1v1h-1zM1323 314h1v1h-1zM1323 329h1v1h-1zM1323 343h1v1h-1zM1323 357h1v1h-1zM1323 372h1v1h-1zM1323 386h1v1h-1zM1323 401h1v1h-1zM1323 415h1v1h-1zM1323 429h1v1h-1zM1323 444h1v1h-1zM1323 458h1v1h-1zM1323 473h1v1h-1zM1323 487h1v1h-1zM1323 501h1v1h-1zM1337 12h1v1h-1zM1337 26h1v1h-1zM1337 41h1v1h-1zM1337 55h1v1h-1zM1337 69h1v1h-1zM1337 84h1v1h-1zM1337 98h1v1h-1zM1337 113h1v1h-1zM1337 127h1v1h-1zM1337 141h1v1h-1zM1337 156h1v1h-1zM1337 170h1v1h-1zM1337 185h1v1h-1zM1337 199h1v1h-1zM1337 213h1v1h-1zM1337 228h1v1h-1zM1337 242h1v1h-1zM1337 257h1v1h-1zM1337 271h1v1h-1zM1337 285h1v1h-1zM1337 300h1v1h-1zM1337 314h1v1h-1zM1337 329h1v1h-1zM1337 343h1v1h-1zM1337 357h1v1h-1zM1337 372h1v1h-1zM1337 386h1v1h-1zM1337 401h1v1h-1zM1337 415h1v1h-1zM1337 429h1v1h-1zM1337 444h1v1h-1zM1337 458h1v1h-1zM1337 473h1v1h-1zM1337 487h1v1h-1zM1337 501h1v1h-1zM1352 12h1v1h-1zM1352 26h1v1h-1zM1352 41h1v1h-1zM1352 55h1v1h-1zM1352 69h1v1h-1zM1352 84h1v1h-1zM1352 98h1v1h-1zM1352 113h1v1h-1zM1352 127h1v1h-1zM1352 141h1v1h-1zM1352 156h1v1h-1zM1352 170h1v1h-1zM1352 185h1v1h-1zM1352 199h1v1h-1zM1352 213h1v1h-1zM1352 228h1v1h-1zM1352 242h1v1h-1zM1352 257h1v1h-1zM1352 271h1v1h-1zM1352 285h1v1h-1zM1352 300h1v1h-1zM1352 314h1v1h-1zM1352 329h1v1h-1zM1352 343h1v1h-1zM1352 357h1v1h-1zM1352 372h1v1h-1zM1352 386h1v1h-1zM1352 401h1v1h-1zM1352 415h1v1h-1zM1352 429h1v1h-1zM1352 444h1v1h-1zM1352 458h1v1h-1zM1352 473h1v1h-1zM1352 487h1v1h-1zM1352 501h1v1h-1zM1366 12h1v1h-1zM1366 26h1v1h-1zM1366 41h1v1h-1zM1366 55h1v1h-1zM1366 69h1v1h-1zM1366 84h1v1h-1zM1366 98h1v1h-1zM1366 113h1v1h-1zM1366 127h1v1h-1zM1366 141h1v1h-1zM1366 156h1v1h-1zM1366 170h1v1h-1zM1366 185h1v1h-1zM1366 199h1v1h-1zM1366 213h1v1h-1zM1366 228h1v1h-1zM1366 242h1v1h-1zM1366 257h1v1h-1zM1366 271h1v1h-1zM1366 285h1v1h-1zM1366 300h1v1h-1zM1366 314h1v1h-1zM1366 329h1v1h-1zM1366 343h1v1h-1zM1366 357h1v1h-1zM1366 372h1v1h-1zM1366 386h1v1h-1zM1366 401h1v1h-1zM1366 415h1v1h-1zM1366 429h1v1h-1zM1366 444h1v1h-1zM1366 458h1v1h-1zM1366 473h1v1h-1zM1366 487h1v1h-1zM1366 501h1v1h-1z"/>
<rect x="0" y="0" width="1378" height="1" fill="#300030"/>
<rect x="243" y="20" width="1" height="14" fill="#000000"/>
<rect x="243" y="26" width="15" height="1" fill="#000000"/>
<rect x="259" y="26" width="28" height="1" fill="#4000ff"/>
<rect x="287" y="26" width="14" height="1" fill="#ab8540"/>
<rect x="345" y="26" width="13" height="1" fill="#ab8540"/>
<rect x="359" y="26" width="50" height="1" fill="#4000ff"/>
<rect x="243" y="49" width="1" height="14" fill="#000000"/>
<rect x="243" y="55" width="15" height="1" fill="#000000"/>
<rect x="259" y="55" width="28" height="1" fill="#4000ff"/>
<rect x="287" y="55" width="14" height="1" fill="#ab8540"/>
<rect x="345" y="55" width="13" height="1" fill="#ab8540"/>
<rect x="359" y="55" width="50" height="1" fill="#4000ff"/>
<rect x="409" y="26" width="1" height="60" fill="#4000ff"/>
<rect x="408" y="52" width="2" height="1" fill="#ff0000"/>
<rect x="407" y="53" width="4" height="1" fill="#ff0000"/>
<rect x="406" y="54" width="6" height="1" fill="#ff0000"/>
<rect x="406" y="55" width="6" height="1" fill="#ff0000"/>
<rect x="407" y="56" width="4" height="1" fill="#ff0000"/>
<rect x="408" y="57" width="2" height="1" fill="#ff0000"/>
<rect x="167" y="85" width="260" height="1" fill="#4000ff"/>
<rect x="408" y="82" width="2" height="1" fill="#ff0000"/>
<rect x="407" y="83" width="4" height="1" fill="#ff0000"/>
<rect x="406" y="84" width="6" height="1" fill="#ff0000"/>
<rect x="406" y="85" width="6" height="1" fill="#ff0000"/>
<rect x="407" y="86" width="4" height="1" fill="#ff0000"/>
<rect x="408" y="87" width="2" height="1" fill="#ff0000"/>
<rect x="426" y="85" width="1" height="95" fill="#4000ff"/>
<rect x="167" y="86" width="1" height="15" fill="#4000ff"/>
<rect x="167" y="101" width="1" height="14" fill="#ab8540"/>
<rect x="167" y="115" width="1" height="3" fill="#cc8008"/>
<rect x="154" y="117" width="26" height="1" fill="#cc8008"/>
<rect x="154" y="124" width="26" height="1" fill="#cc8008"/>
<rect x="167" y="125" width="1" height="2" fill="#cc8008"/>
<rect x="167" y="127" width="1" height="16" fill="#ab8540"/>
<rect x="167" y="144" width="1" height="29" fill="#4000ff"/>
<rect x="152" y="172" width="29" height="1" fill="#000000"/>
<rect x="158" y="176" width="20" height="1" fill="#000000"/>
<rect x="162" y="180" width="12" height="1" fill="#000000"/>
<rect x="166" y="185" width="3" height="1" fill="#000000"/>
<rect x="86" y="242" width="101" height="1" fill="#4000ff"/>
<rect x="86" y="285" width="101" height="1" fill="#4000ff"/>
<rect x="85" y="242" width="1" height="15" fill="#ab8540"/>
<rect x="85" y="257" width="1" height="3" fill="#cc8008"/>
<rect x="72" y="259" width="26" height="1" fill="#cc8008"/>
<rect x="72" y="267" width="26" height="1" fill="#cc8008"/>
<rect x="85" y="268" width="1" height="2" fill="#cc8008"/>
<rect x="85" y="270" width="1" height="16" fill="#ab8540"/>
<rect x="115" y="300" width="72" height="1" fill="#4000ff"/>
<rect x="115" y="343" width="72" height="1" fill="#4000ff"/>
<rect x="114" y="300" width="1" height="17" fill="#ab8540"/>
<rect x="114" y="317" width="1" height="2" fill="#cc8008"/>
<rect x="102" y="319" width="26" height="1" fill="#cc8008"/>
<rect x="102" y="326" width="26" height="1" fill="#cc8008"/>
<rect x="114" y="327" width="1" height="2" fill="#cc8008"/>
<rect x="114" y="329" width="1" height="15" fill="#ab8540"/>
<rect x="187" y="242" width="42" height="1" fill="#ab8540"/>
<rect x="187" y="285" width="42" height="1" fill="#ab8540"/>
<rect x="187" y="300" width="42" height="1" fill="#ab8540"/>
<rect x="187" y="343" width="42" height="1" fill="#ab8540"/>
<rect x="187" y="372" width="42" height="1" fill="#ab8540"/>
<rect x="187" y="401" width="42" height="1" fill="#ab8540"/>
<rect x="187" y="429" width="42" height="1" fill="#ab8540"/>
<rect x="187" y="458" width="42" height="1" fill="#ab8540"/>
<rect x="374" y="242" width="42" height="1" fill="#ab8540"/>
<rect x="374" y="271" width="42" height="1" fill="#ab8540"/>
<rect x="374" y="300" width="42" height="1" fill="#ab8540"/>
<rect x="374" y="343" width="42" height="1" fill="#ab8540"/>
<rect x="374" y="372" width="42" height="1" fill="#ab8540"/>
<rect x="374" y="401" width="42" height="1" fill="#ab8540"/>
<rect x="374" y="429" width="42" height="1" fill="#ab8540"/>
<rect x="374" y="458" width="42" height="1" fill="#ab8540"/>
<rect x="229.5" y="213.5" width="144" height="273" fill="none" stroke="#cc8008" stroke-width="1" shape-rendering="crispEdges"/>
<rect x="230" y="372" width="56" height="1" fill="#cc8008"/>
<rect x="286" y="365" width="1" height="15" fill="#cc8008"/>
<rect x="297" y="372" width="76" height="1" fill="#cc8008"/>
<rect x="230" y="401" width="56" height="1" fill="#cc8008"/>
<rect x="286" y="394" width="1" height="15" fill="#cc8008"/>
<rect x="297" y="401" width="76" height="1" fill="#cc8008"/>
<rect x="230" y="429" width="75" height="1" fill="#cc8008"/>
<rect x="315" y="422" width="1" height="16" fill="#cc8008"/>
<rect x="316" y="429" width="57" height="1" fill="#cc8008"/>
<rect x="230" y="458" width="75" height="1" fill="#cc8008"/>
<rect x="315" y="451" width="1" height="16" fill="#cc8008"/>
<rect x="316" y="458" width="57" height="1" fill="#cc8008"/>
<rect x="129" y="372" width="58" height="1" fill="#4000ff"/>
<rect x="115" y="401" width="72" height="1" fill="#4000ff"/>
<rect x="129" y="429" width="58" height="1" fill="#4000ff"/>
<rect x="129" y="458" width="58" height="1" fill="#4000ff"/>
<rect x="417" y="372" width="96" height="1" fill="#4000ff"/>
<rect x="417" y="401" width="96" height="1" fill="#4000ff"/>
<rect x="417" y="429" width="96" height="1" fill="#4000ff"/>
<rect x="417" y="458" width="96" height="1" fill="#4000ff"/>
<rect x="416" y="179" width="1" height="64" fill="#4000ff"/>
<rect x="417" y="179" width="22" height="1" fill="#4000ff"/>
<rect x="439" y="179" width="14" height="1" fill="#ab8540"/>
<rect x="453" y="179" width="2" height="1" fill="#cc8008"/>
<rect x="455" y="167" width="1" height="26" fill="#cc8008"/>
<rect x="462" y="167" width="1" height="26" fill="#cc8008"/>
<rect x="463" y="179" width="3" height="1" fill="#cc8008"/>
<rect x="466" y="179" width="15" height="1" fill="#ab8540"/>
<rect x="481" y="180" width="1" height="91" fill="#4000ff"/>
<rect x="425" y="176" width="2" height="1" fill="#ff0000"/>
<rect x="424" y="177" width="4" height="1" fill="#ff0000"/>
<rect x="423" y="178" width="6" height="1" fill="#ff0000"/>
<rect x="423" y="179" width="6" height="1" fill="#ff0000"/>
<rect x="424" y="180" width="4" height="1" fill="#ff0000"/>
<rect x="425" y="181" width="2" height="1" fill="#ff0000"/>
<rect x="416" y="271" width="66" height="1" fill="#4000ff"/>
<rect x="482" y="251" width="15" height="1" fill="#4000ff"/>
<rect x="480" y="248" width="2" height="1" fill="#ff0000"/>
<rect x="479" y="249" width="4" height="1" fill="#ff0000"/>
<rect x="478" y="250" width="6" height="1" fill="#ff0000"/>
<rect x="478" y="251" width="6" height="1" fill="#ff0000"/>
<rect x="479" y="252" width="4" height="1" fill="#ff0000"/>
<rect x="480" y="253" width="2" height="1" fill="#ff0000"/>
<rect x="497" y="237" width="1" height="29" fill="#000000"/>
<rect x="501" y="241" width="1" height="20" fill="#000000"/>
<rect x="505" y="245" width="1" height="12" fill="#000000"/>
<rect x="510" y="249" width="1" height="3" fill="#000000"/>
<rect x="417" y="300" width="14" height="1" fill="#ab8540"/>
<rect x="431" y="300" width="4" height="1" fill="#cc8008"/>
<rect x="435" y="287" width="1" height="26" fill="#cc8008"/>
<rect x="442" y="287" width="1" height="26" fill="#cc8008"/>
<rect x="443" y="300" width="2" height="1" fill="#cc8008"/>
<rect x="445" y="300" width="14" height="1" fill="#ab8540"/>
<rect x="417" y="343" width="14" height="1" fill="#ab8540"/>
<rect x="431" y="343" width="4" height="1" fill="#cc8008"/>
<rect x="435" y="330" width="1" height="26" fill="#cc8008"/>
<rect x="442" y="330" width="1" height="26" fill="#cc8008"/>
<rect x="443" y="343" width="2" height="1" fill="#cc8008"/>
<rect x="445" y="343" width="14" height="1" fill="#ab8540"/>
<rect x="460" y="300" width="16" height="1" fill="#4000ff"/>
<rect x="476" y="300" width="1" height="44" fill="#4000ff"/>
<rect x="460" y="343" width="42" height="1" fill="#4000ff"/>
<rect x="475" y="340" width="2" height="1" fill="#ff0000"/>
<rect x="474" y="341" width="4" height="1" fill="#ff0000"/>
<rect x="473" y="342" width="6" height="1" fill="#ff0000"/>
<rect x="473" y="343" width="6" height="1" fill="#ff0000"/>
<rect x="474" y="344" width="4" height="1" fill="#ff0000"/>
<rect x="475" y="345" width="2" height="1" fill="#ff0000"/>
<rect x="502" y="330" width="1" height="28" fill="#000000"/>
<rect x="507" y="333" width="1" height="20" fill="#000000"/>
<rect x="511" y="337" width="1" height="12" fill="#000000"/>
<rect x="515" y="342" width="1" height="2" fill="#000000"/>
<rect x="705" y="127" width="245" height="1" fill="#4000ff"/>
<rect x="734" y="141" width="216" height="1" fill="#4000ff"/>
<rect x="877" y="113" width="73" height="1" fill="#4000ff"/>
<rect x="950" y="113" width="42" height="1" fill="#ab8540"/>
<rect x="950" y="127" width="42" height="1" fill="#ab8540"/>
<rect x="950" y="141" width="42" height="1" fill="#ab8540"/>
<rect x="992.5" y="98.5" width="29" height="58" fill="none" stroke="#cc8008" shape-rendering="crispEdges"/>
<rect x="877" y="113" width="1" height="58" fill="#4000ff"/>
<rect x="863" y="170" width="29" height="1" fill="#000000"/>
<rect x="868" y="175" width="20" height="1" fill="#000000"/>
<rect x="871" y="179" width="12" height="1" fill="#000000"/>
<rect x="876" y="183" width="3" height="1" fill="#000000"/>
<rect x="833" y="124" width="2" height="1" fill="#ff0000"/>
<rect x="832" y="125" width="4" height="1" fill="#ff0000"/>
<rect x="831" y="126" width="6" height="1" fill="#ff0000"/>
<rect x="831" y="127" width="6" height="1" fill="#ff0000"/>
<rect x="832" y="128" width="4" height="1" fill="#ff0000"/>
<rect x="833" y="129" width="2" height="1" fill="#ff0000"/>
<rect x="804" y="138" width="2" height="1" fill="#ff0000"/>
<rect x="803" y="139" width="4" height="1" fill="#ff0000"/>
<rect x="802" y="140" width="6" height="1" fill="#ff0000"/>
<rect x="802" y="141" width="6" height="1" fill="#ff0000"/>
<rect x="803" y="142" width="4" height="1" fill="#ff0000"/>
<rect x="804" y="143" width="2" height="1" fill="#ff0000"/>
<rect x="834" y="127" width="1" height="87" fill="#4000ff"/>
<rect x="805" y="141" width="1" height="73" fill="#4000ff"/>
<rect x="834" y="214" width="1" height="15" fill="#ab8540"/>
<rect x="805" y="214" width="1" height="15" fill="#ab8540"/>
<rect x="790.5" y="228.5" width="58" height="43" fill="none" stroke="#cc8008" shape-rendering="crispEdges"/>
<rect x="819" y="272" width="1" height="13" fill="#ab8540"/>
<rect x="819" y="286" width="1" height="15" fill="#4000ff"/>
<rect x="805" y="300" width="29" height="1" fill="#000000"/>
<rect x="809" y="304" width="20" height="1" fill="#000000"/>
<rect x="814" y="308" width="12" height="1" fill="#000000"/>
<rect x="818" y="313" width="3" height="1" fill="#000000"/>
<rect x="705" y="343" width="229" height="1" fill="#4000ff"/>
<rect x="734" y="357" width="200" height="1" fill="#4000ff"/>
<rect x="877" y="329" width="57" height="1" fill="#4000ff"/>
<rect x="934" y="329" width="44" height="1" fill="#ab8540"/>
<rect x="934" y="343" width="44" height="1" fill="#ab8540"/>
<rect x="934" y="357" width="44" height="1" fill="#ab8540"/>
<rect x="978.5" y="314.5" width="28" height="58" fill="none" stroke="#cc8008" shape-rendering="crispEdges"/>
<rect x="877" y="329" width="1" height="58" fill="#4000ff"/>
<rect x="863" y="386" width="29" height="1" fill="#000000"/>
<rect x="868" y="391" width="20" height="1" fill="#000000"/>
<rect x="871" y="395" width="12" height="1" fill="#000000"/>
<rect x="876" y="399" width="3" height="1" fill="#000000"/>
<rect x="833" y="340" width="2" height="1" fill="#ff0000"/>
<rect x="832" y="341" width="4" height="1" fill="#ff0000"/>
<rect x="831" y="342" width="6" height="1" fill="#ff0000"/>
<rect x="831" y="343" width="6" height="1" fill="#ff0000"/>
<rect x="832" y="344" width="4" height="1" fill="#ff0000"/>
<rect x="833" y="345" width="2" height="1" fill="#ff0000"/>
<rect x="804" y="354" width="2" height="1" fill="#ff0000"/>
<rect x="803" y="355" width="4" height="1" fill="#ff0000"/>
<rect x="802" y="356" width="6" height="1" fill="#ff0000"/>
<rect x="802" y="357" width="6" height="1" fill="#ff0000"/>
<rect x="803" y="358" width="4" height="1" fill="#ff0000"/>
<rect x="804" y="359" width="2" height="1" fill="#ff0000"/>
<rect x="834" y="343" width="1" height="72" fill="#4000ff"/>
<rect x="805" y="357" width="1" height="58" fill="#4000ff"/>
<rect x="834" y="415" width="1" height="15" fill="#ab8540"/>
<rect x="805" y="415" width="1" height="15" fill="#ab8540"/>
<rect x="790.5" y="429.5" width="58" height="44" fill="none" stroke="#cc8008" shape-rendering="crispEdges"/>
<rect x="819" y="474" width="1" height="13" fill="#ab8540"/>
<rect x="819" y="488" width="1" height="14" fill="#4000ff"/>
<rect x="805" y="501" width="29" height="1" fill="#000000"/>
<rect x="809" y="506" width="20" height="1" fill="#000000"/>
<rect x="814" y="510" width="12" height="1" fill="#000000"/>
<rect x="818" y="514" width="3" height="1" fill="#000000"/>
<path fill="#cc8008" d="M287 365h1v1h-1zM287 379h1v1h-1zM287 394h1v1h-1zM287 408h1v1h-1zM288 366h1v1h-1zM288 378h1v1h-1zM288 395h1v1h-1zM288 407h1v1h-1zM289 367h1v1h-1zM289 377h1v1h-1zM289 396h1v1h-1zM289 406h1v1h-1zM290 368h1v1h-1zM290 376h1v1h-1zM290 397h1v1h-1zM290 405h1v1h-1zM291 369h1v1h-1zM291 375h1v1h-1zM291 398h1v1h-1zM291 404h1v1h-1zM292 369h1v1h-1zM292 375h1v1h-1zM292 398h1v1h-1zM292 404h1v1h-1zM293 370h1v1h-1zM293 374h1v1h-1zM293 399h1v1h-1zM293 403h1v1h-1zM294 371h1v1h-1zM294 373h1v1h-1zM294 400h1v1h-1zM294 402h1v1h-1zM295 372h1v1h-1zM295 401h1v1h-1zM301 26h1v1h-1zM301 55h1v1h-1zM302 25h1v1h-1zM302 54h1v1h-1zM303 24h1v1h-1zM303 53h1v1h-1zM304 23h1v1h-1zM304 52h1v1h-1zM305 22h1v1h-1zM305 51h1v1h-1zM305 429h1v1h-1zM305 458h1v1h-1zM306 23h1v1h-1zM306 52h1v1h-1zM306 428h1v1h-1zM306 430h1v1h-1zM306 457h1v1h-1zM306 459h1v1h-1zM307 24h1v1h-1zM307 53h1v1h-1zM307 429h1v1h-1zM307 458h1v1h-1zM308 25h1v1h-1zM308 54h1v1h-1zM309 26h1v1h-1zM309 55h1v1h-1zM309 428h1v1h-1zM309 430h1v1h-1zM309 457h1v1h-1zM309 459h1v1h-1zM310 27h1v1h-1zM310 55h1v1h-1zM310 427h1v1h-1zM310 431h1v1h-1zM310 456h1v1h-1zM310 460h1v1h-1zM311 28h1v1h-1zM311 56h1v1h-1zM311 426h1v1h-1zM311 432h1v1h-1zM311 433h1v1h-1zM311 455h1v1h-1zM311 461h1v1h-1zM311 462h1v1h-1zM312 29h1v1h-1zM312 57h1v1h-1zM312 425h1v1h-1zM312 434h1v1h-1zM312 454h1v1h-1zM312 463h1v1h-1zM313 30h1v1h-1zM313 58h1v1h-1zM313 424h1v1h-1zM313 435h1v1h-1zM313 453h1v1h-1zM313 464h1v1h-1zM314 31h1v1h-1zM314 59h1v1h-1zM314 423h1v1h-1zM314 436h1v1h-1zM314 452h1v1h-1zM314 465h1v1h-1zM315 30h1v1h-1zM315 58h1v1h-1zM316 29h1v1h-1zM316 57h1v1h-1zM317 28h1v1h-1zM317 56h1v1h-1zM318 26h1v1h-1zM318 27h1v1h-1zM318 55h1v1h-1zM319 25h1v1h-1zM319 54h1v1h-1zM320 24h1v1h-1zM320 53h1v1h-1zM321 23h1v1h-1zM321 52h1v1h-1zM322 22h1v1h-1zM322 51h1v1h-1zM323 23h1v1h-1zM323 52h1v1h-1zM324 24h1v1h-1zM324 53h1v1h-1zM325 25h1v1h-1zM325 54h1v1h-1zM326 26h1v1h-1zM326 55h1v1h-1zM327 27h1v1h-1zM327 55h1v1h-1zM328 28h1v1h-1zM328 56h1v1h-1zM329 29h1v1h-1zM329 57h1v1h-1zM330 30h1v1h-1zM330 58h1v1h-1zM331 31h1v1h-1zM331 59h1v1h-1zM332 30h1v1h-1zM332 58h1v1h-1zM333 29h1v1h-1zM333 57h1v1h-1zM334 28h1v1h-1zM334 56h1v1h-1zM335 27h1v1h-1zM335 55h1v1h-1zM336 26h1v1h-1zM336 55h1v1h-1zM337 25h1v1h-1zM337 54h1v1h-1zM338 24h1v1h-1zM338 53h1v1h-1zM339 23h1v1h-1zM339 52h1v1h-1zM340 22h1v1h-1zM340 51h1v1h-1zM341 23h1v1h-1zM341 52h1v1h-1zM342 24h1v1h-1zM342 53h1v1h-1zM343 25h1v1h-1zM343 54h1v1h-1zM344 26h1v1h-1zM344 55h1v1h-1z"/>
<path fill="#000000" d="M99 401h1v1h-1zM100 400h1v1h-1zM100 402h1v1h-1zM101 399h1v1h-1zM101 403h1v1h-1zM102 397h1v1h-1zM102 398h1v1h-1zM102 404h1v1h-1zM103 396h1v1h-1zM103 405h1v1h-1zM104 395h1v1h-1zM104 406h1v1h-1zM105 394h1v1h-1zM105 407h1v1h-1zM106 401h1v1h-1zM107 400h1v1h-1zM107 402h1v1h-1zM108 399h1v1h-1zM108 403h1v1h-1zM109 398h1v1h-1zM109 404h1v1h-1zM110 397h1v1h-1zM110 404h1v1h-1zM111 396h1v1h-1zM111 405h1v1h-1zM112 395h1v1h-1zM112 406h1v1h-1zM113 394h1v1h-1zM113 407h1v1h-1zM114 372h1v1h-1zM115 371h1v1h-1zM115 373h1v1h-1zM115 423h1v1h-1zM115 436h1v1h-1zM115 452h1v1h-1zM115 464h1v1h-1zM116 370h1v1h-1zM116 374h1v1h-1zM116 424h1v1h-1zM116 435h1v1h-1zM116 453h1v1h-1zM116 463h1v1h-1zM117 369h1v1h-1zM117 375h1v1h-1zM117 425h1v1h-1zM117 434h1v1h-1zM117 454h1v1h-1zM117 462h1v1h-1zM118 368h1v1h-1zM118 376h1v1h-1zM118 426h1v1h-1zM118 432h1v1h-1zM118 433h1v1h-1zM118 455h1v1h-1zM118 461h1v1h-1zM119 367h1v1h-1zM119 377h1v1h-1zM119 427h1v1h-1zM119 431h1v1h-1zM119 456h1v1h-1zM119 460h1v1h-1zM120 366h1v1h-1zM120 378h1v1h-1zM120 428h1v1h-1zM120 430h1v1h-1zM120 457h1v1h-1zM120 459h1v1h-1zM121 372h1v1h-1zM121 429h1v1h-1zM121 458h1v1h-1zM122 371h1v1h-1zM122 373h1v1h-1zM122 423h1v1h-1zM122 436h1v1h-1zM122 452h1v1h-1zM122 464h1v1h-1zM123 370h1v1h-1zM123 374h1v1h-1zM123 424h1v1h-1zM123 435h1v1h-1zM123 453h1v1h-1zM123 463h1v1h-1zM124 369h1v1h-1zM124 375h1v1h-1zM124 425h1v1h-1zM124 434h1v1h-1zM124 454h1v1h-1zM124 462h1v1h-1zM125 368h1v1h-1zM125 376h1v1h-1zM125 426h1v1h-1zM125 432h1v1h-1zM125 433h1v1h-1zM125 455h1v1h-1zM125 461h1v1h-1zM126 367h1v1h-1zM126 377h1v1h-1zM126 427h1v1h-1zM126 431h1v1h-1zM126 456h1v1h-1zM126 460h1v1h-1zM127 366h1v1h-1zM127 378h1v1h-1zM127 428h1v1h-1zM127 430h1v1h-1zM127 457h1v1h-1zM127 459h1v1h-1zM128 429h1v1h-1zM128 458h1v1h-1z"/>
<text transform="matrix(0.762,0,0,1,149.80,0)" y="30" class="m">V</text>
<text transform="matrix(0.934,0,0,1,156.44,0)" y="30" class="m">C</text>
<text transform="matrix(0.934,0,0,1,163.44,0)" y="30" class="m">C</text>
<text x="170.99" y="30" class="m">5</text>
<text transform="matrix(0.762,0,0,1,177.80,0)" y="30" class="m">V</text>
<text x="185.10" y="30" class="m">0</text>
<rect x="191.40" y="32" width="8" height="1" fill="#000"/>
<text x="198.73" y="30" class="m">S</text>
<text transform="matrix(0.778,0,0,1,205.80,0)" y="30" class="m">Y</text>
<text x="212.73" y="30" class="m">S</text>
<text transform="matrix(0.838,0,0,1,285.61,0)" y="38" class="m">R</text>
<text x="293.15" y="38" class="m">9</text>
<text x="299.88" y="38" class="m">7</text>
<text x="306.88" y="38" class="m">7</text>
<text x="313.88" y="38" class="m">7</text>
<text x="329.93" y="38" class="s">0R</text>
<text transform="matrix(0.762,0,0,1,149.80,0)" y="58" class="m">V</text>
<text transform="matrix(0.934,0,0,1,156.44,0)" y="58" class="m">C</text>
<text transform="matrix(0.934,0,0,1,163.44,0)" y="58" class="m">C</text>
<text x="171.05" y="58" class="m">3</text>
<text transform="matrix(0.762,0,0,1,177.80,0)" y="58" class="m">V</text>
<text x="185.10" y="58" class="m">0</text>
<rect x="191.40" y="60" width="8" height="1" fill="#000"/>
<text x="198.73" y="58" class="m">S</text>
<text transform="matrix(0.778,0,0,1,205.80,0)" y="58" class="m">Y</text>
<text x="212.73" y="58" class="m">S</text>
<text transform="matrix(0.838,0,0,1,285.61,0)" y="67" class="m">R</text>
<text x="293.15" y="67" class="m">9</text>
<text x="299.88" y="67" class="m">7</text>
<text x="306.88" y="67" class="m">7</text>
<text x="314.10" y="67" class="m">8</text>
<text x="329.42" y="67" class="s">NC/0R</text>
<g transform="translate(163.00,101.00) rotate(-90)"><path fill="#000" d="M-1 -8h2v7h2v1h-5v-1h2v-6h-1z"/><rect x="-2" y="-8" width="1" height="1" fill="#000" fill-opacity="0.35"/></g>
<g transform="translate(163.00,141.00) rotate(-90)"><text x="-2.93" y="0" class="m">2</text></g>
<text transform="matrix(0.934,0,0,1,167.14,0)" y="140" class="m">C</text>
<text x="174.85" y="140" class="m">9</text>
<text x="181.69" y="140" class="m">5</text>
<text x="188.78" y="140" class="m">4</text>
<text x="195.78" y="140" class="m">4</text>
<path transform="translate(207.45,133)" d="M3.42 -8.6H4.47V0H3.42V-7.1L0.95 -5.35V-6.45Z"/>
<text x="214.12" y="133" class="s">0uF/6.3V</text>
<path transform="translate(49.50,231)" d="M3.42 -8.6H4.47V0H3.42V-7.1L0.95 -5.35V-6.45Z"/>
<text x="56.17" y="231" class="s">00NF/X5R/</text>
<path transform="translate(115.53,231)" d="M3.42 -8.6H4.47V0H3.42V-7.1L0.95 -5.35V-6.45Z"/>
<text x="122.20" y="231" class="s">6V/0402</text>
<g transform="translate(79.00,244.00) rotate(-90)"><path fill="#000" d="M-1 -8h2v7h2v1h-5v-1h2v-6h-1z"/><rect x="-2" y="-8" width="1" height="1" fill="#000" fill-opacity="0.35"/></g>
<g transform="translate(79.00,285.00) rotate(-90)"><text x="-2.93" y="0" class="m">2</text></g>
<text transform="matrix(0.934,0,0,1,107.54,0)" y="268" class="m">C</text>
<text x="115.25" y="268" class="m">9</text>
<text x="122.09" y="268" class="m">5</text>
<text x="129.18" y="268" class="m">4</text>
<text x="136.12" y="268" class="m">6</text>
<path transform="translate(92.45,274)" d="M3.42 -8.6H4.47V0H3.42V-7.1L0.95 -5.35V-6.45Z"/>
<text x="99.12" y="274" class="s">00NF/X5R/</text>
<path transform="translate(158.48,274)" d="M3.42 -8.6H4.47V0H3.42V-7.1L0.95 -5.35V-6.45Z"/>
<text x="165.15" y="274" class="s">6V/0402</text>
<g transform="translate(110.00,300.00) rotate(-90)"><text x="-2.93" y="0" class="m">2</text></g>
<g transform="translate(110.00,343.00) rotate(-90)"><path fill="#000" d="M-1 -8h2v7h2v1h-5v-1h2v-6h-1z"/><rect x="-2" y="-8" width="1" height="1" fill="#000" fill-opacity="0.35"/></g>
<text transform="matrix(0.934,0,0,1,136.54,0)" y="326" class="m">C</text>
<text x="144.25" y="326" class="m">9</text>
<text x="151.09" y="326" class="m">5</text>
<text x="158.18" y="326" class="m">4</text>
<text x="165.20" y="326" class="m">8</text>
<text transform="matrix(0.784,0,0,1,228.90,0)" y="204" class="m">U</text>
<text x="236.22" y="204" class="m">6</text>
<text x="243.30" y="204" class="m">8</text>
<text x="250.30" y="204" class="m">0</text>
<text x="257.22" y="204" class="m">6</text>
<path fill="#000" d="M214 230h2v7h2v1h-5v-1h2v-6h-1z"/><rect x="213" y="230" width="1" height="1" fill="#000" fill-opacity="0.35"/>
<text transform="matrix(0.934,0,0,1,235.74,0)" y="248" class="p">C</text>
<path fill="#0000ff" d="M245 240h2v7h2v1h-5v-1h2v-6h-1z"/><rect x="244" y="240" width="1" height="1" fill="#0000ff" fill-opacity="0.35"/>
<text transform="matrix(1.003,0,0,1,250.00,0)" y="248" class="p">+</text>
<text x="212.47" y="281" class="m">3</text>
<text transform="matrix(0.934,0,0,1,235.74,0)" y="291" class="p">C</text>
<path fill="#0000ff" d="M245 283h2v7h2v1h-5v-1h2v-6h-1z"/><rect x="244" y="283" width="1" height="1" fill="#0000ff" fill-opacity="0.35"/>
<text transform="matrix(1.604,0,0,1,250.19,0)" y="291" class="p">-</text>
<text x="212.19" y="296" class="m">4</text>
<text transform="matrix(0.934,0,0,1,235.74,0)" y="306" class="p">C</text>
<text x="243.47" y="306" class="p">2</text>
<text transform="matrix(1.003,0,0,1,250.00,0)" y="306" class="p">+</text>
<text x="212.47" y="339" class="m">5</text>
<text transform="matrix(0.934,0,0,1,235.74,0)" y="349" class="p">C</text>
<text x="243.47" y="349" class="p">2</text>
<text transform="matrix(1.604,0,0,1,250.19,0)" y="349" class="p">-</text>
<path fill="#000" d="M207 360h2v7h2v1h-5v-1h2v-6h-1z"/><rect x="206" y="360" width="1" height="1" fill="#000" fill-opacity="0.35"/>
<path fill="#000" d="M214 360h2v7h2v1h-5v-1h2v-6h-1z"/><rect x="213" y="360" width="1" height="1" fill="#000" fill-opacity="0.35"/>
<text transform="matrix(0.926,0,0,1,236.00,0)" y="378" class="p">T</text>
<path fill="#0000ff" d="M245 370h2v7h2v1h-5v-1h2v-6h-1z"/><rect x="244" y="370" width="1" height="1" fill="#0000ff" fill-opacity="0.35"/>
<path fill="#0000ff" d="M251 370h5v1h-2v6h2v1h-5v-1h2v-6h-2z"/>
<text transform="matrix(0.796,0,0,1,256.92,0)" y="378" class="p">N</text>
<path fill="#000" d="M207 389h2v7h2v1h-5v-1h2v-6h-1z"/><rect x="206" y="389" width="1" height="1" fill="#000" fill-opacity="0.35"/>
<text x="212.46" y="397" class="m">0</text>
<text transform="matrix(0.926,0,0,1,236.00,0)" y="407" class="p">T</text>
<text x="243.47" y="407" class="p">2</text>
<path fill="#0000ff" d="M251 399h5v1h-2v6h2v1h-5v-1h2v-6h-2z"/>
<text transform="matrix(0.796,0,0,1,256.92,0)" y="407" class="p">N</text>
<path fill="#000" d="M207 417h2v7h2v1h-5v-1h2v-6h-1z"/><rect x="206" y="417" width="1" height="1" fill="#000" fill-opacity="0.35"/>
<text x="212.66" y="425" class="m">2</text>
<text transform="matrix(0.838,0,0,1,235.91,0)" y="435" class="p">R</text>
<path fill="#0000ff" d="M245 427h2v7h2v1h-5v-1h2v-6h-1z"/><rect x="244" y="427" width="1" height="1" fill="#0000ff" fill-opacity="0.35"/>
<text transform="matrix(0.833,0,0,1,249.79,0)" y="435" class="p">O</text>
<text transform="matrix(0.784,0,0,1,257.00,0)" y="435" class="p">U</text>
<text transform="matrix(0.926,0,0,1,264.00,0)" y="435" class="p">T</text>
<text x="212.49" y="454" class="m">9</text>
<text transform="matrix(0.838,0,0,1,235.91,0)" y="464" class="p">R</text>
<text x="243.47" y="464" class="p">2</text>
<text transform="matrix(0.833,0,0,1,249.79,0)" y="464" class="p">O</text>
<text transform="matrix(0.784,0,0,1,257.00,0)" y="464" class="p">U</text>
<text transform="matrix(0.926,0,0,1,264.00,0)" y="464" class="p">T</text>
<path fill="#000" d="M385 230h2v7h2v1h-5v-1h2v-6h-1z"/><rect x="384" y="230" width="1" height="1" fill="#000" fill-opacity="0.35"/>
<text x="390.12" y="238" class="m">6</text>
<text transform="matrix(0.762,0,0,1,345.00,0)" y="248" class="p">V</text>
<text transform="matrix(0.934,0,0,1,351.64,0)" y="248" class="p">C</text>
<text transform="matrix(0.934,0,0,1,358.64,0)" y="248" class="p">C</text>
<path fill="#000" d="M385 259h2v7h2v1h-5v-1h2v-6h-1z"/><rect x="384" y="259" width="1" height="1" fill="#000" fill-opacity="0.35"/>
<text x="390.09" y="267" class="m">5</text>
<text transform="matrix(0.821,0,0,1,344.70,0)" y="277" class="p">G</text>
<text transform="matrix(0.796,0,0,1,351.82,0)" y="277" class="p">N</text>
<text transform="matrix(0.816,0,0,1,358.82,0)" y="277" class="p">D</text>
<text x="383.27" y="296" class="m">2</text>
<text transform="matrix(0.762,0,0,1,352.40,0)" y="306" class="p">V</text>
<text transform="matrix(1.003,0,0,1,359.30,0)" y="306" class="p">+</text>
<text x="383.28" y="339" class="m">6</text>
<text transform="matrix(0.762,0,0,1,352.70,0)" y="349" class="p">V</text>
<text transform="matrix(1.604,0,0,1,359.79,0)" y="349" class="p">-</text>
<path fill="#000" d="M385 360h2v7h2v1h-5v-1h2v-6h-1z"/><rect x="384" y="360" width="1" height="1" fill="#000" fill-opacity="0.35"/>
<text x="390.18" y="368" class="m">4</text>
<text transform="matrix(0.926,0,0,1,323.90,0)" y="378" class="p">T</text>
<path fill="#0000ff" d="M333 370h2v7h2v1h-5v-1h2v-6h-1z"/><rect x="332" y="370" width="1" height="1" fill="#0000ff" fill-opacity="0.35"/>
<path fill="#0000ff" d="M339 370h5v1h-2v6h2v1h-5v-1h2v-6h-2z"/>
<text transform="matrix(0.833,0,0,1,344.69,0)" y="378" class="p">O</text>
<text transform="matrix(0.784,0,0,1,351.90,0)" y="378" class="p">U</text>
<text transform="matrix(0.926,0,0,1,358.90,0)" y="378" class="p">T</text>
<text x="383.01" y="397" class="m">7</text>
<text transform="matrix(0.926,0,0,1,330.90,0)" y="407" class="p">T</text>
<text x="338.37" y="407" class="p">2</text>
<text transform="matrix(0.833,0,0,1,344.69,0)" y="407" class="p">O</text>
<text transform="matrix(0.784,0,0,1,351.90,0)" y="407" class="p">U</text>
<text transform="matrix(0.926,0,0,1,358.90,0)" y="407" class="p">T</text>
<path fill="#000" d="M385 417h2v7h2v1h-5v-1h2v-6h-1z"/><rect x="384" y="417" width="1" height="1" fill="#000" fill-opacity="0.35"/>
<text x="390.15" y="425" class="m">3</text>
<text transform="matrix(0.838,0,0,1,337.81,0)" y="435" class="p">R</text>
<path fill="#0000ff" d="M347 427h2v7h2v1h-5v-1h2v-6h-1z"/><rect x="346" y="427" width="1" height="1" fill="#0000ff" fill-opacity="0.35"/>
<path fill="#0000ff" d="M353 427h5v1h-2v6h2v1h-5v-1h2v-6h-2z"/>
<text transform="matrix(0.796,0,0,1,358.82,0)" y="435" class="p">N</text>
<text x="383.34" y="454" class="m">8</text>
<text transform="matrix(0.838,0,0,1,337.81,0)" y="464" class="p">R</text>
<text x="345.37" y="464" class="p">2</text>
<path fill="#0000ff" d="M353 456h5v1h-2v6h2v1h-5v-1h2v-6h-2z"/>
<text transform="matrix(0.796,0,0,1,358.82,0)" y="464" class="p">N</text>
<text x="228.70" y="508" class="m">S</text>
<path fill="#000" d="M237 500h5v1h-2v6h2v1h-5v-1h2v-6h-2z"/>
<text transform="matrix(0.926,0,0,1,242.66,0)" y="508" class="m">T</text>
<text x="250.13" y="508" class="m">2</text>
<text x="257.01" y="508" class="m">3</text>
<text x="264.13" y="508" class="m">2</text>
<text transform="matrix(1.380,0,0,1,271.76,0)" y="508" class="m">/</text>
<text transform="matrix(0.642,0,0,1,277.64,0)" y="508" class="m">M</text>
<text transform="matrix(0.756,0,0,1,284.77,0)" y="508" class="m">A</text>
<text transform="matrix(0.782,0,0,1,291.66,0)" y="508" class="m">X</text>
<text x="299.13" y="508" class="m">2</text>
<text x="306.01" y="508" class="m">3</text>
<text x="313.13" y="508" class="m">2</text>
<text transform="matrix(0.769,0,0,1,33.53,0)" y="375" class="r">U</text>
<text transform="matrix(0.742,0,0,1,40.63,0)" y="375" class="r">A</text>
<text transform="matrix(0.822,0,0,1,47.44,0)" y="375" class="r">R</text>
<text transform="matrix(0.908,0,0,1,54.52,0)" y="375" class="r">T</text>
<text transform="matrix(0.978,0,0,1,61.90,0)" y="375" class="r">4</text>
<rect x="68.16" y="377" width="8" height="1" fill="#ff0000"/>
<text transform="matrix(0.908,0,0,1,75.52,0)" y="375" class="r">T</text>
<text transform="matrix(0.767,0,0,1,82.52,0)" y="375" class="r">X</text>
<rect x="89.16" y="377" width="8" height="1" fill="#ff0000"/>
<text transform="matrix(0.630,0,0,1,96.50,0)" y="375" class="r">M</text>
<path fill="#ff0000" d="M105 367h2v7h2v1h-5v-1h2v-6h-1z"/><rect x="104" y="367" width="1" height="1" fill="#ff0000" fill-opacity="0.35"/>
<text transform="matrix(0.769,0,0,1,20.13,0)" y="404" class="r">U</text>
<text transform="matrix(0.742,0,0,1,27.23,0)" y="404" class="r">A</text>
<text transform="matrix(0.822,0,0,1,34.04,0)" y="404" class="r">R</text>
<text transform="matrix(0.908,0,0,1,41.12,0)" y="404" class="r">T</text>
<text transform="matrix(0.975,0,0,1,48.42,0)" y="404" class="r">5</text>
<rect x="54.76" y="406" width="8" height="1" fill="#ff0000"/>
<text transform="matrix(0.908,0,0,1,62.12,0)" y="404" class="r">T</text>
<text transform="matrix(0.767,0,0,1,69.12,0)" y="404" class="r">X</text>
<rect x="75.76" y="406" width="8" height="1" fill="#ff0000"/>
<text transform="matrix(0.630,0,0,1,83.10,0)" y="404" class="r">M</text>
<path fill="#ff0000" d="M92 396h2v7h2v1h-5v-1h2v-6h-1z"/><rect x="91" y="396" width="1" height="1" fill="#ff0000" fill-opacity="0.35"/>
<text transform="matrix(0.769,0,0,1,31.93,0)" y="432" class="r">U</text>
<text transform="matrix(0.742,0,0,1,39.03,0)" y="432" class="r">A</text>
<text transform="matrix(0.822,0,0,1,45.84,0)" y="432" class="r">R</text>
<text transform="matrix(0.908,0,0,1,52.92,0)" y="432" class="r">T</text>
<text transform="matrix(0.978,0,0,1,60.30,0)" y="432" class="r">4</text>
<rect x="66.56" y="434" width="8" height="1" fill="#ff0000"/>
<text transform="matrix(0.822,0,0,1,73.84,0)" y="432" class="r">R</text>
<text transform="matrix(0.767,0,0,1,80.92,0)" y="432" class="r">X</text>
<rect x="87.56" y="434" width="8" height="1" fill="#ff0000"/>
<text transform="matrix(0.630,0,0,1,94.90,0)" y="432" class="r">M</text>
<path fill="#ff0000" d="M104 424h2v7h2v1h-5v-1h2v-6h-1z"/><rect x="103" y="424" width="1" height="1" fill="#ff0000" fill-opacity="0.35"/>
<text transform="matrix(0.769,0,0,1,31.93,0)" y="461" class="r">U</text>
<text transform="matrix(0.742,0,0,1,39.03,0)" y="461" class="r">A</text>
<text transform="matrix(0.822,0,0,1,45.84,0)" y="461" class="r">R</text>
<text transform="matrix(0.908,0,0,1,52.92,0)" y="461" class="r">T</text>
<text transform="matrix(0.975,0,0,1,60.22,0)" y="461" class="r">5</text>
<rect x="66.56" y="463" width="8" height="1" fill="#ff0000"/>
<text transform="matrix(0.822,0,0,1,73.84,0)" y="461" class="r">R</text>
<text transform="matrix(0.767,0,0,1,80.92,0)" y="461" class="r">X</text>
<rect x="87.56" y="463" width="8" height="1" fill="#ff0000"/>
<text transform="matrix(0.630,0,0,1,94.90,0)" y="461" class="r">M</text>
<path fill="#ff0000" d="M104 453h2v7h2v1h-5v-1h2v-6h-1z"/><rect x="103" y="453" width="1" height="1" fill="#ff0000" fill-opacity="0.35"/>
<text x="433.07" y="369" class="m">2</text>
<text x="439.95" y="369" class="m">3</text>
<text x="447.07" y="369" class="m">2</text>
<rect x="453.31" y="371" width="8" height="1" fill="#000"/>
<text transform="matrix(0.926,0,0,1,460.60,0)" y="369" class="m">T</text>
<text transform="matrix(0.782,0,0,1,467.60,0)" y="369" class="m">X</text>
<path fill="#000" d="M477 361h2v7h2v1h-5v-1h2v-6h-1z"/><rect x="476" y="361" width="1" height="1" fill="#000" fill-opacity="0.35"/>
<text x="433.07" y="398" class="m">2</text>
<text x="439.95" y="398" class="m">3</text>
<text x="447.07" y="398" class="m">2</text>
<rect x="453.31" y="400" width="8" height="1" fill="#000"/>
<text transform="matrix(0.926,0,0,1,460.60,0)" y="398" class="m">T</text>
<text transform="matrix(0.782,0,0,1,467.60,0)" y="398" class="m">X</text>
<text x="475.07" y="398" class="m">2</text>
<text x="433.07" y="426" class="m">2</text>
<text x="439.95" y="426" class="m">3</text>
<text x="447.07" y="426" class="m">2</text>
<rect x="453.31" y="428" width="8" height="1" fill="#000"/>
<text transform="matrix(0.838,0,0,1,460.52,0)" y="426" class="m">R</text>
<text transform="matrix(0.782,0,0,1,467.60,0)" y="426" class="m">X</text>
<path fill="#000" d="M477 418h2v7h2v1h-5v-1h2v-6h-1z"/><rect x="476" y="418" width="1" height="1" fill="#000" fill-opacity="0.35"/>
<text x="433.07" y="455" class="m">2</text>
<text x="439.95" y="455" class="m">3</text>
<text x="447.07" y="455" class="m">2</text>
<rect x="453.31" y="457" width="8" height="1" fill="#000"/>
<text transform="matrix(0.838,0,0,1,460.52,0)" y="455" class="m">R</text>
<text transform="matrix(0.782,0,0,1,467.60,0)" y="455" class="m">X</text>
<text x="475.07" y="455" class="m">2</text>
<text transform="matrix(0.934,0,0,1,422.34,0)" y="176" class="m">C</text>
<text x="430.05" y="176" class="m">9</text>
<text x="436.89" y="176" class="m">5</text>
<text x="443.98" y="176" class="m">4</text>
<text x="450.89" y="176" class="m">5</text>
<path fill="#000" d="M437 168h2v7h2v1h-5v-1h2v-6h-1z"/><rect x="436" y="168" width="1" height="1" fill="#000" fill-opacity="0.35"/>
<path transform="translate(466.45,176)" d="M3.42 -8.6H4.47V0H3.42V-7.1L0.95 -5.35V-6.45Z"/>
<text x="473.12" y="176" class="s">00NF/X5R/</text>
<path transform="translate(532.48,176)" d="M3.42 -8.6H4.47V0H3.42V-7.1L0.95 -5.35V-6.45Z"/>
<text x="539.15" y="176" class="s">6V/0402</text>
<text x="478.47" y="176" class="m">2</text>
<text transform="matrix(0.934,0,0,1,406.54,0)" y="296" class="m">C</text>
<text x="414.25" y="296" class="m">9</text>
<text x="421.09" y="296" class="m">5</text>
<text x="428.18" y="296" class="m">4</text>
<text x="434.98" y="296" class="m">7</text>
<text x="413.47" y="296" class="m">2</text>
<path fill="#000" d="M457 288h2v7h2v1h-5v-1h2v-6h-1z"/><rect x="456" y="288" width="1" height="1" fill="#000" fill-opacity="0.35"/>
<text transform="matrix(0.934,0,0,1,406.54,0)" y="338" class="m">C</text>
<text x="414.25" y="338" class="m">9</text>
<text x="421.09" y="338" class="m">5</text>
<text x="428.18" y="338" class="m">4</text>
<text x="435.25" y="338" class="m">9</text>
<text x="413.47" y="339" class="m">2</text>
<path fill="#000" d="M457 330h2v7h2v1h-5v-1h2v-6h-1z"/><rect x="456" y="330" width="1" height="1" fill="#000" fill-opacity="0.35"/>
<path transform="translate(479.50,312)" d="M3.42 -8.6H4.47V0H3.42V-7.1L0.95 -5.35V-6.45Z"/>
<text x="486.17" y="312" class="s">00NF/X5R/</text>
<path transform="translate(545.53,312)" d="M3.42 -8.6H4.47V0H3.42V-7.1L0.95 -5.35V-6.45Z"/>
<text x="552.20" y="312" class="s">6V/0402</text>
<path transform="translate(479.50,326)" d="M3.42 -8.6H4.47V0H3.42V-7.1L0.95 -5.35V-6.45Z"/>
<text x="486.17" y="326" class="s">00NF/X5R/</text>
<path transform="translate(545.53,326)" d="M3.42 -8.6H4.47V0H3.42V-7.1L0.95 -5.35V-6.45Z"/>
<text x="552.20" y="326" class="s">6V/0402</text>
<text x="720.40" y="124" class="s">232_RX</text>
<path transform="translate(763.76,124)" d="M3.42 -8.6H4.47V0H3.42V-7.1L0.95 -5.35V-6.45Z"/>
<text x="748.70" y="138" class="s">232_TX</text>
<path transform="translate(790.73,138)" d="M3.42 -8.6H4.47V0H3.42V-7.1L0.95 -5.35V-6.45Z"/>
<text x="974.93" y="109" class="m">3</text>
<text x="974.97" y="123" class="m">2</text>
<path fill="#000" d="M976 129h2v7h2v1h-5v-1h2v-6h-1z"/><rect x="975" y="129" width="1" height="1" fill="#000" fill-opacity="0.35"/>
<text transform="matrix(1.104,0,0,1,992.32,0)" y="89" class="m">J</text>
<text x="998.95" y="89" class="m">9</text>
<text x="1005.95" y="89" class="m">9</text>
<text x="1012.90" y="89" class="m">0</text>
<text x="1019.68" y="89" class="m">7</text>
<text x="963.10" y="168" class="m">S</text>
<text transform="matrix(0.642,0,0,1,970.04,0)" y="168" class="m">M</text>
<text transform="matrix(0.567,0,0,1,977.26,0)" y="168" class="m">W</text>
<text x="984.53" y="168" class="m">2</text>
<text x="991.35" y="168" class="m">5</text>
<text x="998.46" y="168" class="m">0</text>
<text transform="matrix(1.604,0,0,1,1005.25,0)" y="168" class="m">-</text>
<text x="1012.41" y="168" class="m">3</text>
<text x="1019.19" y="168" class="m">P</text>
<g transform="translate(801.00,215.00) rotate(-90)"><text x="-2.93" y="0" class="m">2</text></g>
<g transform="translate(830.00,215.00) rotate(-90)"><path fill="#000" d="M-1 -8h2v7h2v1h-5v-1h2v-6h-1z"/><rect x="-2" y="-8" width="1" height="1" fill="#000" fill-opacity="0.35"/></g>
<g transform="translate(815.00,284.00) rotate(-90)"><text x="-3.05" y="0" class="m">3</text></g>
<g transform="translate(811.00,245.00) rotate(-90)"><text transform="matrix(0.756,0,0,1,-3.29,0)" y="0" class="p">A</text><text x="4.07" y="0" class="p">2</text></g>
<g transform="translate(825.00,260.00) rotate(-90)"><text transform="matrix(0.934,0,0,1,-3.66,0)" y="0" class="p">C</text><text transform="matrix(0.833,0,0,1,3.39,0)" y="0" class="p">O</text><text transform="matrix(0.642,0,0,1,10.58,0)" y="0" class="p">M</text></g>
<g transform="translate(840.00,246.00) rotate(-90)"><text transform="matrix(0.756,0,0,1,-3.29,0)" y="0" class="p">A</text><path fill="#0000ff" d="M6 -8h2v7h2v1h-5v-1h2v-6h-1z"/><rect x="5" y="-8" width="1" height="1" fill="#0000ff" fill-opacity="0.35"/></g>
<text transform="matrix(0.816,0,0,1,861.82,0)" y="254" class="m">D</text>
<text x="869.35" y="254" class="m">9</text>
<text x="876.37" y="254" class="m">2</text>
<text x="883.30" y="254" class="m">0</text>
<text x="890.35" y="254" class="m">9</text>
<text x="862.25" y="268" class="m">P</text>
<text x="869.16" y="268" class="m">S</text>
<text transform="matrix(0.642,0,0,1,876.10,0)" y="268" class="m">M</text>
<text x="883.30" y="268" class="m">7</text>
<path fill="#000" d="M892 260h2v7h2v1h-5v-1h2v-6h-1z"/><rect x="891" y="260" width="1" height="1" fill="#000" fill-opacity="0.35"/>
<text x="897.59" y="268" class="m">2</text>
<text transform="matrix(1.604,0,0,1,904.31,0)" y="268" class="m">-</text>
<text x="911.05" y="268" class="m">L</text>
<text x="918.23" y="268" class="m">F</text>
<text transform="matrix(1.604,0,0,1,925.31,0)" y="268" class="m">-</text>
<text transform="matrix(0.926,0,0,1,932.12,0)" y="268" class="m">T</text>
<text x="939.30" y="268" class="m">7</text>
<text transform="matrix(1.380,0,0,1,947.22,0)" y="268" class="m">/</text>
<text x="953.16" y="268" class="m">S</text>
<text transform="matrix(0.833,0,0,1,959.91,0)" y="268" class="m">O</text>
<text transform="matrix(0.926,0,0,1,967.12,0)" y="268" class="m">T</text>
<text x="974.59" y="268" class="m">2</text>
<text x="981.47" y="268" class="m">3</text>
<text transform="matrix(1.102,0,0,1,919.57,0)" y="216" class="big">R</text>
<text transform="matrix(1.188,0,0,1,944.07,0)" y="216" class="big">S</text>
<text transform="matrix(1.266,0,0,1,967.74,0)" y="216" class="big">2</text>
<text transform="matrix(1.266,0,0,1,990.23,0)" y="216" class="big">3</text>
<text transform="matrix(1.266,0,0,1,1013.54,0)" y="216" class="big">2</text>
<rect x="1033.65" y="225" width="25.7" height="3" fill="#000"/>
<text transform="matrix(1.051,0,0,1,1058.25,0)" y="216" class="big">C</text>
<text transform="matrix(0.885,0,0,1,1081.92,0)" y="216" class="big">H</text>
<text transform="matrix(1.398,0,0,1,1103.21,0)" y="216" class="big">1</text>
<text x="720.40" y="340" class="s">232_RX2</text>
<text x="748.70" y="354" class="s">232_TX2</text>
<text x="960.93" y="325" class="m">3</text>
<text x="960.97" y="339" class="m">2</text>
<path fill="#000" d="M962 345h2v7h2v1h-5v-1h2v-6h-1z"/><rect x="961" y="345" width="1" height="1" fill="#000" fill-opacity="0.35"/>
<text transform="matrix(1.104,0,0,1,985.52,0)" y="305" class="m">J</text>
<text x="992.15" y="305" class="m">9</text>
<text x="999.15" y="305" class="m">9</text>
<text x="1006.10" y="305" class="m">0</text>
<text x="1013.10" y="305" class="m">8</text>
<text x="948.50" y="384" class="m">S</text>
<text transform="matrix(0.642,0,0,1,955.44,0)" y="384" class="m">M</text>
<text transform="matrix(0.567,0,0,1,962.66,0)" y="384" class="m">W</text>
<text x="969.93" y="384" class="m">2</text>
<text x="976.75" y="384" class="m">5</text>
<text x="983.86" y="384" class="m">0</text>
<text transform="matrix(1.604,0,0,1,990.65,0)" y="384" class="m">-</text>
<text x="997.81" y="384" class="m">3</text>
<text x="1004.59" y="384" class="m">P</text>
<g transform="translate(801.00,416.00) rotate(-90)"><text x="-2.93" y="0" class="m">2</text></g>
<g transform="translate(830.00,416.00) rotate(-90)"><path fill="#000" d="M-1 -8h2v7h2v1h-5v-1h2v-6h-1z"/><rect x="-2" y="-8" width="1" height="1" fill="#000" fill-opacity="0.35"/></g>
<g transform="translate(815.00,486.00) rotate(-90)"><text x="-3.05" y="0" class="m">3</text></g>
<g transform="translate(811.00,446.00) rotate(-90)"><text transform="matrix(0.756,0,0,1,-3.29,0)" y="0" class="p">A</text><text x="4.07" y="0" class="p">2</text></g>
<g transform="translate(825.00,461.00) rotate(-90)"><text transform="matrix(0.934,0,0,1,-3.66,0)" y="0" class="p">C</text><text transform="matrix(0.833,0,0,1,3.39,0)" y="0" class="p">O</text><text transform="matrix(0.642,0,0,1,10.58,0)" y="0" class="p">M</text></g>
<g transform="translate(840.00,447.00) rotate(-90)"><text transform="matrix(0.756,0,0,1,-3.29,0)" y="0" class="p">A</text><path fill="#0000ff" d="M6 -8h2v7h2v1h-5v-1h2v-6h-1z"/><rect x="5" y="-8" width="1" height="1" fill="#0000ff" fill-opacity="0.35"/></g>
<text transform="matrix(0.816,0,0,1,861.82,0)" y="456" class="m">D</text>
<text x="869.35" y="456" class="m">9</text>
<text x="876.37" y="456" class="m">2</text>
<path fill="#000" d="M885 448h2v7h2v1h-5v-1h2v-6h-1z"/><rect x="884" y="448" width="1" height="1" fill="#000" fill-opacity="0.35"/>
<text x="890.30" y="456" class="m">0</text>
<text x="862.25" y="470" class="m">P</text>
<text x="869.16" y="470" class="m">S</text>
<text transform="matrix(0.642,0,0,1,876.10,0)" y="470" class="m">M</text>
<text x="883.30" y="470" class="m">7</text>
<path fill="#000" d="M892 462h2v7h2v1h-5v-1h2v-6h-1z"/><rect x="891" y="462" width="1" height="1" fill="#000" fill-opacity="0.35"/>
<text x="897.59" y="470" class="m">2</text>
<text transform="matrix(1.604,0,0,1,904.31,0)" y="470" class="m">-</text>
<text x="911.05" y="470" class="m">L</text>
<text x="918.23" y="470" class="m">F</text>
<text transform="matrix(1.604,0,0,1,925.31,0)" y="470" class="m">-</text>
<text transform="matrix(0.926,0,0,1,932.12,0)" y="470" class="m">T</text>
<text x="939.30" y="470" class="m">7</text>
<text transform="matrix(1.380,0,0,1,947.22,0)" y="470" class="m">/</text>
<text x="953.16" y="470" class="m">S</text>
<text transform="matrix(0.833,0,0,1,959.91,0)" y="470" class="m">O</text>
<text transform="matrix(0.926,0,0,1,967.12,0)" y="470" class="m">T</text>
<text x="974.59" y="470" class="m">2</text>
<text x="981.47" y="470" class="m">3</text>
<text transform="matrix(1.102,0,0,1,905.57,0)" y="432" class="big">R</text>
<text transform="matrix(1.188,0,0,1,930.07,0)" y="432" class="big">S</text>
<text transform="matrix(1.266,0,0,1,953.74,0)" y="432" class="big">2</text>
<text transform="matrix(1.266,0,0,1,976.23,0)" y="432" class="big">3</text>
<text transform="matrix(1.266,0,0,1,999.54,0)" y="432" class="big">2</text>
<rect x="1019.65" y="441" width="25.7" height="3" fill="#000"/>
<text transform="matrix(1.051,0,0,1,1044.25,0)" y="432" class="big">C</text>
<text transform="matrix(0.885,0,0,1,1067.92,0)" y="432" class="big">H</text>
<text transform="matrix(1.266,0,0,1,1091.14,0)" y="432" class="big">2</text>
<text transform="matrix(1.720,0,0,1,1136.21,0)" y="85" class="rb">J</text>
<text transform="matrix(1.295,0,0,1,1147.04,0)" y="85" class="rb">1</text>
<text transform="matrix(1.295,0,0,1,1157.99,0)" y="85" class="rb">1</text>
<text transform="matrix(1.019,0,0,0.8,1171.76,16.10)" y="85" class="rb">(</text>
<text transform="matrix(1.295,0,0,1,1179.89,0)" y="85" class="rb">1</text>
<text transform="matrix(0.905,0,0,0.8,1194.18,16.10)" y="85" class="rb">)</text>
<text transform="matrix(1.152,0,0,1,1224.71,0)" y="85" class="rb">2</text>
<text transform="matrix(1.118,0,0,1,1235.62,0)" y="85" class="rb">3</text>
<text transform="matrix(1.152,0,0,1,1246.61,0)" y="85" class="rb">2</text>
<rect x="1256.13" y="88" width="12.6" height="2" fill="#ff0000"/>
<text transform="matrix(0.801,0,0,1,1269.13,0)" y="85" class="rb">T</text>
<text transform="matrix(0.944,0,0,1,1278.42,0)" y="85" class="rb">X</text>
<text transform="matrix(1.295,0,0,1,1289.39,0)" y="85" class="rb">1</text>
<text transform="matrix(1.720,0,0,1,1136.21,0)" y="114" class="rb">J</text>
<text transform="matrix(1.295,0,0,1,1147.04,0)" y="114" class="rb">1</text>
<text transform="matrix(1.295,0,0,1,1157.99,0)" y="114" class="rb">1</text>
<text transform="matrix(1.019,0,0,0.8,1171.76,21.90)" y="114" class="rb">(</text>
<text transform="matrix(1.152,0,0,1,1180.91,0)" y="114" class="rb">2</text>
<text transform="matrix(0.905,0,0,0.8,1194.18,21.90)" y="114" class="rb">)</text>
<text transform="matrix(1.152,0,0,1,1224.71,0)" y="114" class="rb">2</text>
<text transform="matrix(1.118,0,0,1,1235.62,0)" y="114" class="rb">3</text>
<text transform="matrix(1.152,0,0,1,1246.61,0)" y="114" class="rb">2</text>
<rect x="1256.13" y="117" width="12.6" height="2" fill="#ff0000"/>
<text transform="matrix(0.958,0,0,1,1267.64,0)" y="114" class="rb">R</text>
<text transform="matrix(0.944,0,0,1,1278.42,0)" y="114" class="rb">X</text>
<text transform="matrix(1.295,0,0,1,1289.39,0)" y="114" class="rb">1</text>
<text transform="matrix(1.720,0,0,1,1136.21,0)" y="143" class="rb">J</text>
<text transform="matrix(1.295,0,0,1,1147.04,0)" y="143" class="rb">1</text>
<text transform="matrix(1.295,0,0,1,1157.99,0)" y="143" class="rb">1</text>
<text transform="matrix(1.019,0,0,0.8,1171.76,27.70)" y="143" class="rb">(</text>
<text transform="matrix(1.118,0,0,1,1180.87,0)" y="143" class="rb">3</text>
<text transform="matrix(0.905,0,0,0.8,1194.18,27.70)" y="143" class="rb">)</text>
<text transform="matrix(0.882,0,0,1,1224.01,0)" y="143" class="rb">G</text>
<text transform="matrix(0.873,0,0,1,1235.05,0)" y="143" class="rb">N</text>
<text transform="matrix(0.914,0,0,1,1245.88,0)" y="143" class="rb">D</text>
<text transform="matrix(1.720,0,0,1,1150.31,0)" y="301" class="rb">J</text>
<text transform="matrix(1.295,0,0,1,1161.14,0)" y="301" class="rb">1</text>
<text transform="matrix(1.152,0,0,1,1173.11,0)" y="301" class="rb">2</text>
<text transform="matrix(1.019,0,0,0.8,1185.86,59.30)" y="301" class="rb">(</text>
<text transform="matrix(1.295,0,0,1,1193.99,0)" y="301" class="rb">1</text>
<text transform="matrix(0.905,0,0,0.8,1208.28,59.30)" y="301" class="rb">)</text>
<text transform="matrix(1.152,0,0,1,1238.81,0)" y="301" class="rb">2</text>
<text transform="matrix(1.118,0,0,1,1249.72,0)" y="301" class="rb">3</text>
<text transform="matrix(1.152,0,0,1,1260.71,0)" y="301" class="rb">2</text>
<rect x="1270.23" y="304" width="12.6" height="2" fill="#ff0000"/>
<text transform="matrix(0.801,0,0,1,1283.23,0)" y="301" class="rb">T</text>
<text transform="matrix(0.944,0,0,1,1292.52,0)" y="301" class="rb">X</text>
<text transform="matrix(1.152,0,0,1,1304.51,0)" y="301" class="rb">2</text>
<text transform="matrix(1.720,0,0,1,1150.31,0)" y="330" class="rb">J</text>
<text transform="matrix(1.295,0,0,1,1161.14,0)" y="330" class="rb">1</text>
<text transform="matrix(1.152,0,0,1,1173.11,0)" y="330" class="rb">2</text>
<text transform="matrix(1.019,0,0,0.8,1185.86,65.10)" y="330" class="rb">(</text>
<text transform="matrix(1.152,0,0,1,1195.01,0)" y="330" class="rb">2</text>
<text transform="matrix(0.905,0,0,0.8,1208.28,65.10)" y="330" class="rb">)</text>
<text transform="matrix(1.152,0,0,1,1238.81,0)" y="330" class="rb">2</text>
<text transform="matrix(1.118,0,0,1,1249.72,0)" y="330" class="rb">3</text>
<text transform="matrix(1.152,0,0,1,1260.71,0)" y="330" class="rb">2</text>
<rect x="1270.23" y="333" width="12.6" height="2" fill="#ff0000"/>
<text transform="matrix(0.958,0,0,1,1281.74,0)" y="330" class="rb">R</text>
<text transform="matrix(0.944,0,0,1,1292.52,0)" y="330" class="rb">X</text>
<text transform="matrix(1.152,0,0,1,1304.51,0)" y="330" class="rb">2</text>
<text transform="matrix(1.720,0,0,1,1150.31,0)" y="359" class="rb">J</text>
<text transform="matrix(1.295,0,0,1,1161.14,0)" y="359" class="rb">1</text>
<text transform="matrix(1.152,0,0,1,1173.11,0)" y="359" class="rb">2</text>
<text transform="matrix(1.019,0,0,0.8,1185.86,70.90)" y="359" class="rb">(</text>
<text transform="matrix(1.118,0,0,1,1194.97,0)" y="359" class="rb">3</text>
<text transform="matrix(0.905,0,0,0.8,1208.28,70.90)" y="359" class="rb">)</text>
<text transform="matrix(0.882,0,0,1,1238.11,0)" y="359" class="rb">G</text>
<text transform="matrix(0.873,0,0,1,1249.15,0)" y="359" class="rb">N</text>
<text transform="matrix(0.914,0,0,1,1259.98,0)" y="359" class="rb">D</text>
<ellipse cx="999.6" cy="112.85" rx="92.8" ry="71.35" fill="none" stroke="#ff0000" stroke-width="2.3" stroke-dasharray="2.3 3.5"/>
<ellipse cx="1222.4" cy="112.95" rx="115" ry="71.45" fill="none" stroke="#ff0000" stroke-width="2.3" stroke-dasharray="2.3 3.5"/>
<ellipse cx="999.5" cy="357.05" rx="92.8" ry="71.35" fill="none" stroke="#ff0000" stroke-width="2.3" stroke-dasharray="2.3 3.5"/>
<ellipse cx="1236.85" cy="328.9" rx="114.65" ry="71.3" fill="none" stroke="#ff0000" stroke-width="2.3" stroke-dasharray="2.3 3.5"/>
</svg></body></html>
